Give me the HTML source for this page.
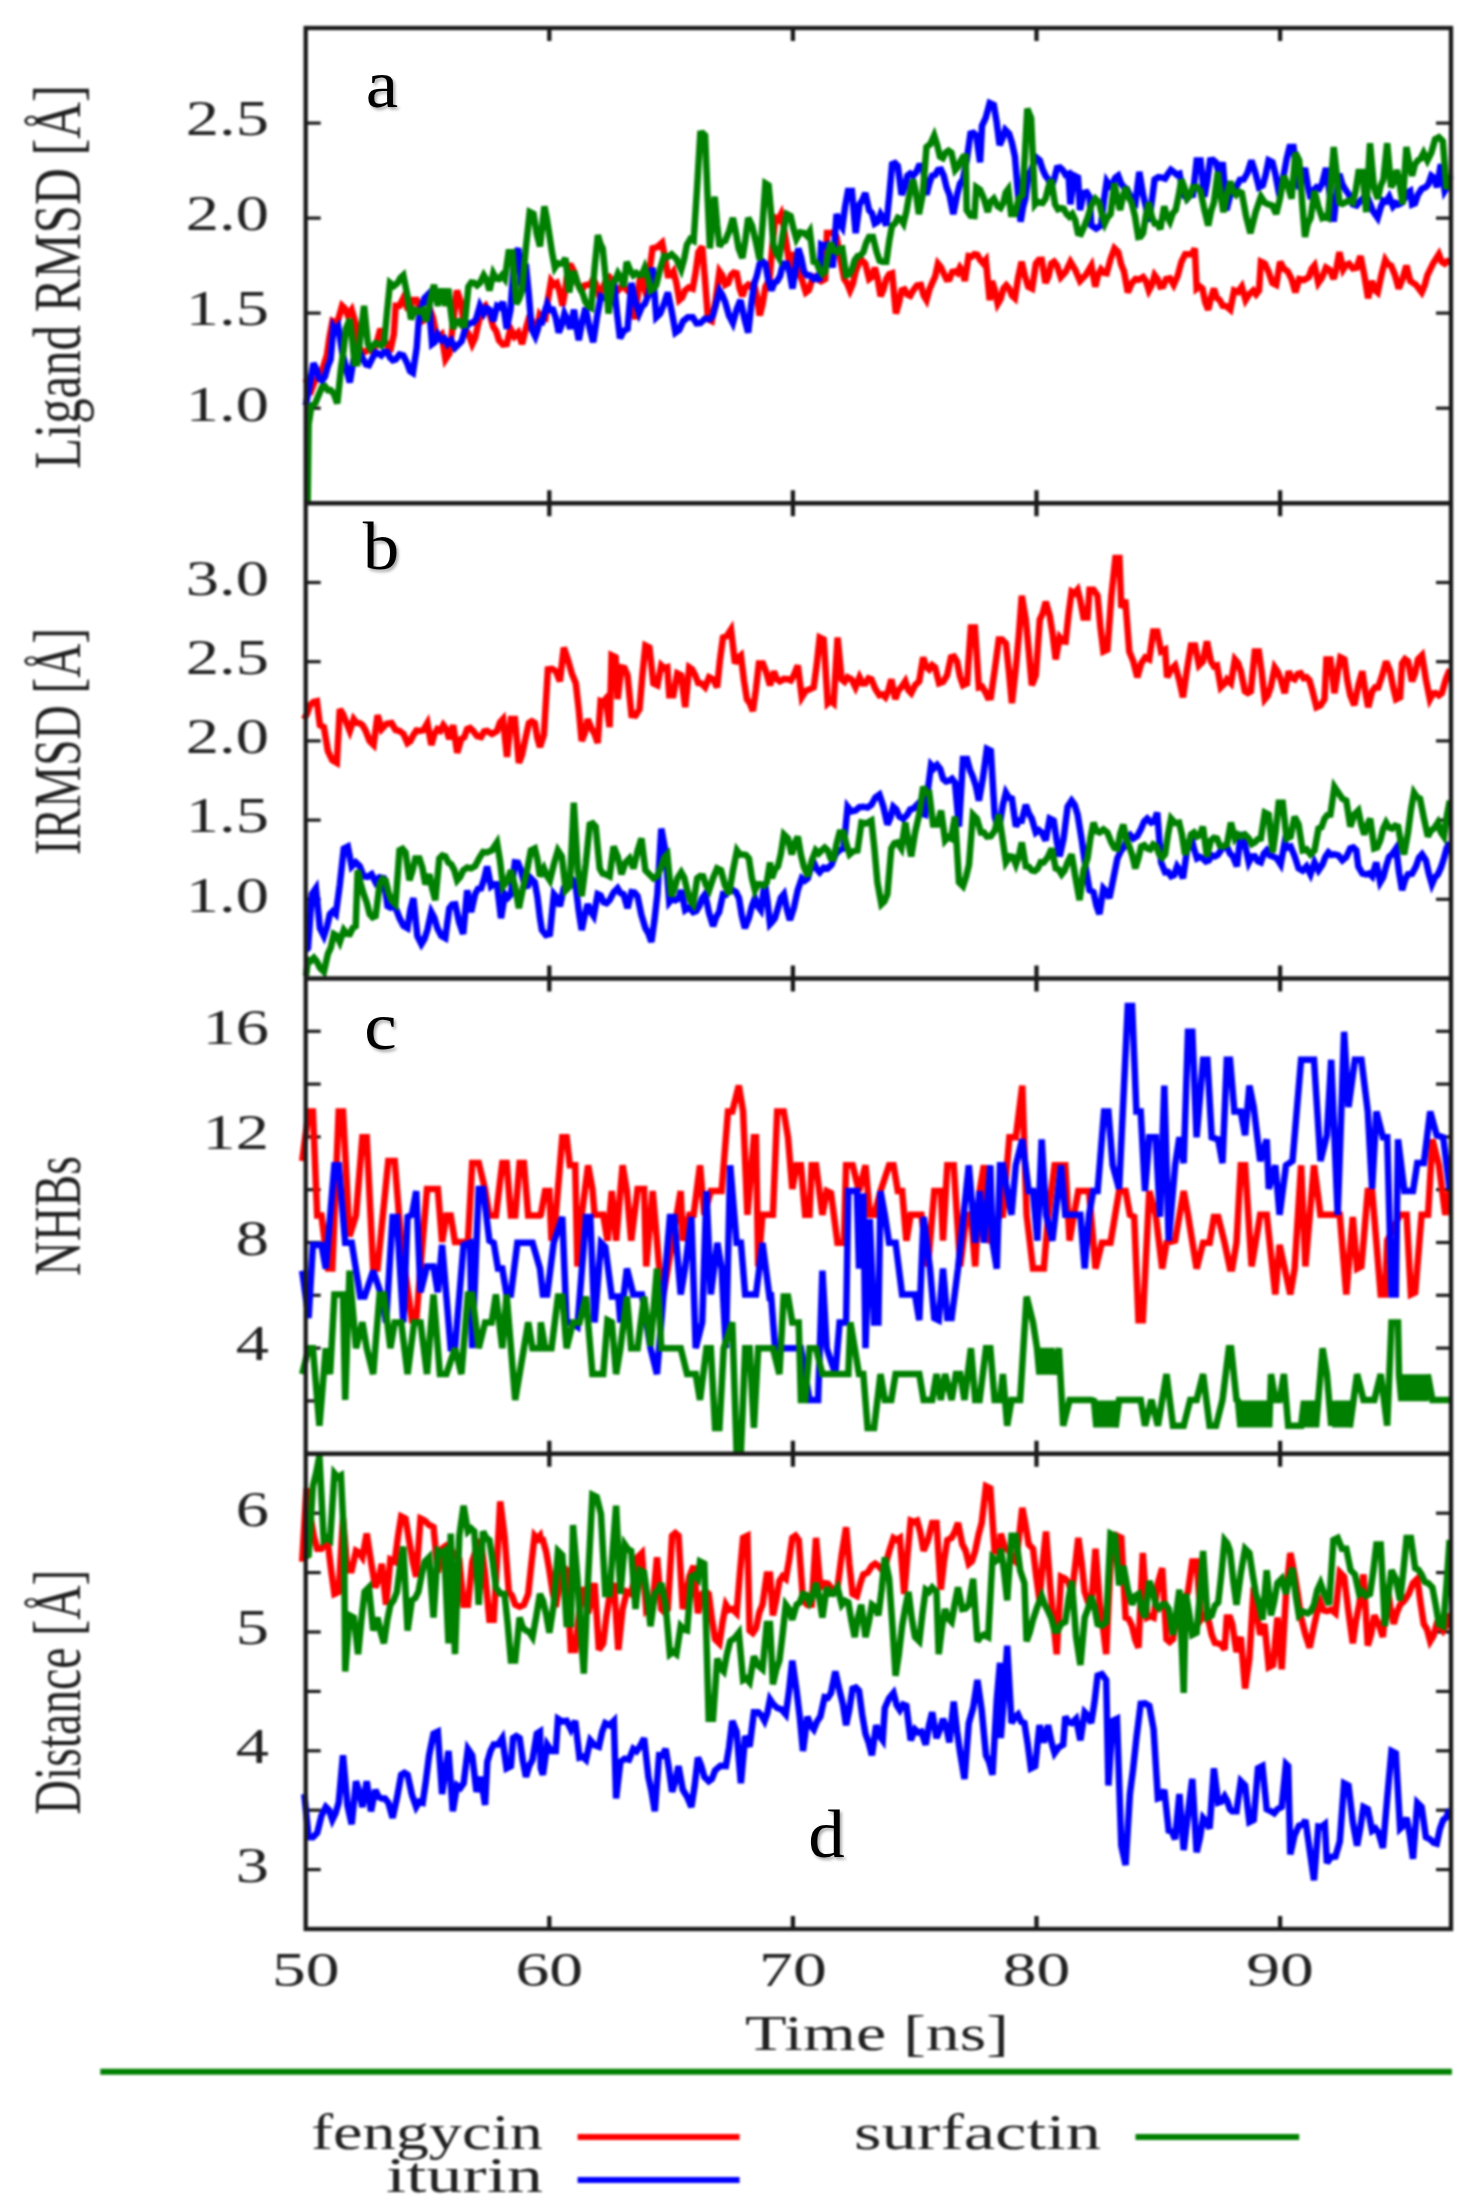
<!DOCTYPE html><html><head><meta charset="utf-8"><style>html,body{margin:0;padding:0;background:#fff}body{position:relative;width:1479px;height:2211px;overflow:hidden}svg{display:block;filter:blur(0.8px)}svg.ov{position:absolute;left:0;top:0;filter:none}</style></head><body>
<svg width="1479" height="2211" viewBox="0 0 1479 2211" font-family="Liberation Serif">
<rect width="100%" height="100%" fill="#fff"/>
<line x1="549.3" y1="28.0" x2="549.3" y2="41.0" stroke="#1a1a1a" stroke-width="4.3"/>
<line x1="549.3" y1="503.25" x2="549.3" y2="490.25" stroke="#1a1a1a" stroke-width="4.3"/>
<line x1="792.9" y1="28.0" x2="792.9" y2="41.0" stroke="#1a1a1a" stroke-width="4.3"/>
<line x1="792.9" y1="503.25" x2="792.9" y2="490.25" stroke="#1a1a1a" stroke-width="4.3"/>
<line x1="1036.5" y1="28.0" x2="1036.5" y2="41.0" stroke="#1a1a1a" stroke-width="4.3"/>
<line x1="1036.5" y1="503.25" x2="1036.5" y2="490.25" stroke="#1a1a1a" stroke-width="4.3"/>
<line x1="1280.1" y1="28.0" x2="1280.1" y2="41.0" stroke="#1a1a1a" stroke-width="4.3"/>
<line x1="1280.1" y1="503.25" x2="1280.1" y2="490.25" stroke="#1a1a1a" stroke-width="4.3"/>
<line x1="549.3" y1="503.25" x2="549.3" y2="516.25" stroke="#1a1a1a" stroke-width="4.3"/>
<line x1="549.3" y1="978.5" x2="549.3" y2="965.5" stroke="#1a1a1a" stroke-width="4.3"/>
<line x1="792.9" y1="503.25" x2="792.9" y2="516.25" stroke="#1a1a1a" stroke-width="4.3"/>
<line x1="792.9" y1="978.5" x2="792.9" y2="965.5" stroke="#1a1a1a" stroke-width="4.3"/>
<line x1="1036.5" y1="503.25" x2="1036.5" y2="516.25" stroke="#1a1a1a" stroke-width="4.3"/>
<line x1="1036.5" y1="978.5" x2="1036.5" y2="965.5" stroke="#1a1a1a" stroke-width="4.3"/>
<line x1="1280.1" y1="503.25" x2="1280.1" y2="516.25" stroke="#1a1a1a" stroke-width="4.3"/>
<line x1="1280.1" y1="978.5" x2="1280.1" y2="965.5" stroke="#1a1a1a" stroke-width="4.3"/>
<line x1="549.3" y1="978.5" x2="549.3" y2="991.5" stroke="#1a1a1a" stroke-width="4.3"/>
<line x1="549.3" y1="1453.75" x2="549.3" y2="1440.75" stroke="#1a1a1a" stroke-width="4.3"/>
<line x1="792.9" y1="978.5" x2="792.9" y2="991.5" stroke="#1a1a1a" stroke-width="4.3"/>
<line x1="792.9" y1="1453.75" x2="792.9" y2="1440.75" stroke="#1a1a1a" stroke-width="4.3"/>
<line x1="1036.5" y1="978.5" x2="1036.5" y2="991.5" stroke="#1a1a1a" stroke-width="4.3"/>
<line x1="1036.5" y1="1453.75" x2="1036.5" y2="1440.75" stroke="#1a1a1a" stroke-width="4.3"/>
<line x1="1280.1" y1="978.5" x2="1280.1" y2="991.5" stroke="#1a1a1a" stroke-width="4.3"/>
<line x1="1280.1" y1="1453.75" x2="1280.1" y2="1440.75" stroke="#1a1a1a" stroke-width="4.3"/>
<line x1="549.3" y1="1453.75" x2="549.3" y2="1466.75" stroke="#1a1a1a" stroke-width="4.3"/>
<line x1="549.3" y1="1929.0" x2="549.3" y2="1916.0" stroke="#1a1a1a" stroke-width="4.3"/>
<line x1="792.9" y1="1453.75" x2="792.9" y2="1466.75" stroke="#1a1a1a" stroke-width="4.3"/>
<line x1="792.9" y1="1929.0" x2="792.9" y2="1916.0" stroke="#1a1a1a" stroke-width="4.3"/>
<line x1="1036.5" y1="1453.75" x2="1036.5" y2="1466.75" stroke="#1a1a1a" stroke-width="4.3"/>
<line x1="1036.5" y1="1929.0" x2="1036.5" y2="1916.0" stroke="#1a1a1a" stroke-width="4.3"/>
<line x1="1280.1" y1="1453.75" x2="1280.1" y2="1466.75" stroke="#1a1a1a" stroke-width="4.3"/>
<line x1="1280.1" y1="1929.0" x2="1280.1" y2="1916.0" stroke="#1a1a1a" stroke-width="4.3"/>
<line x1="305.7" y1="408.2" x2="320.7" y2="408.2" stroke="#1a1a1a" stroke-width="3.2"/>
<line x1="1451.0" y1="408.2" x2="1436.0" y2="408.2" stroke="#1a1a1a" stroke-width="3.2"/>
<line x1="305.7" y1="313.1" x2="320.7" y2="313.1" stroke="#1a1a1a" stroke-width="3.2"/>
<line x1="1451.0" y1="313.1" x2="1436.0" y2="313.1" stroke="#1a1a1a" stroke-width="3.2"/>
<line x1="305.7" y1="218.1" x2="320.7" y2="218.1" stroke="#1a1a1a" stroke-width="3.2"/>
<line x1="1451.0" y1="218.1" x2="1436.0" y2="218.1" stroke="#1a1a1a" stroke-width="3.2"/>
<line x1="305.7" y1="123.1" x2="320.7" y2="123.1" stroke="#1a1a1a" stroke-width="3.2"/>
<line x1="1451.0" y1="123.1" x2="1436.0" y2="123.1" stroke="#1a1a1a" stroke-width="3.2"/>
<line x1="305.7" y1="899.3" x2="320.7" y2="899.3" stroke="#1a1a1a" stroke-width="3.2"/>
<line x1="1451.0" y1="899.3" x2="1436.0" y2="899.3" stroke="#1a1a1a" stroke-width="3.2"/>
<line x1="305.7" y1="820.1" x2="320.7" y2="820.1" stroke="#1a1a1a" stroke-width="3.2"/>
<line x1="1451.0" y1="820.1" x2="1436.0" y2="820.1" stroke="#1a1a1a" stroke-width="3.2"/>
<line x1="305.7" y1="740.9" x2="320.7" y2="740.9" stroke="#1a1a1a" stroke-width="3.2"/>
<line x1="1451.0" y1="740.9" x2="1436.0" y2="740.9" stroke="#1a1a1a" stroke-width="3.2"/>
<line x1="305.7" y1="661.7" x2="320.7" y2="661.7" stroke="#1a1a1a" stroke-width="3.2"/>
<line x1="1451.0" y1="661.7" x2="1436.0" y2="661.7" stroke="#1a1a1a" stroke-width="3.2"/>
<line x1="305.7" y1="582.5" x2="320.7" y2="582.5" stroke="#1a1a1a" stroke-width="3.2"/>
<line x1="1451.0" y1="582.5" x2="1436.0" y2="582.5" stroke="#1a1a1a" stroke-width="3.2"/>
<line x1="305.7" y1="1400.9" x2="320.7" y2="1400.9" stroke="#1a1a1a" stroke-width="3.2"/>
<line x1="1451.0" y1="1400.9" x2="1436.0" y2="1400.9" stroke="#1a1a1a" stroke-width="3.2"/>
<line x1="305.7" y1="1348.1" x2="320.7" y2="1348.1" stroke="#1a1a1a" stroke-width="3.2"/>
<line x1="1451.0" y1="1348.1" x2="1436.0" y2="1348.1" stroke="#1a1a1a" stroke-width="3.2"/>
<line x1="305.7" y1="1295.3" x2="320.7" y2="1295.3" stroke="#1a1a1a" stroke-width="3.2"/>
<line x1="1451.0" y1="1295.3" x2="1436.0" y2="1295.3" stroke="#1a1a1a" stroke-width="3.2"/>
<line x1="305.7" y1="1242.5" x2="320.7" y2="1242.5" stroke="#1a1a1a" stroke-width="3.2"/>
<line x1="1451.0" y1="1242.5" x2="1436.0" y2="1242.5" stroke="#1a1a1a" stroke-width="3.2"/>
<line x1="305.7" y1="1189.7" x2="320.7" y2="1189.7" stroke="#1a1a1a" stroke-width="3.2"/>
<line x1="1451.0" y1="1189.7" x2="1436.0" y2="1189.7" stroke="#1a1a1a" stroke-width="3.2"/>
<line x1="305.7" y1="1136.9" x2="320.7" y2="1136.9" stroke="#1a1a1a" stroke-width="3.2"/>
<line x1="1451.0" y1="1136.9" x2="1436.0" y2="1136.9" stroke="#1a1a1a" stroke-width="3.2"/>
<line x1="305.7" y1="1084.1" x2="320.7" y2="1084.1" stroke="#1a1a1a" stroke-width="3.2"/>
<line x1="1451.0" y1="1084.1" x2="1436.0" y2="1084.1" stroke="#1a1a1a" stroke-width="3.2"/>
<line x1="305.7" y1="1031.3" x2="320.7" y2="1031.3" stroke="#1a1a1a" stroke-width="3.2"/>
<line x1="1451.0" y1="1031.3" x2="1436.0" y2="1031.3" stroke="#1a1a1a" stroke-width="3.2"/>
<line x1="305.7" y1="1869.6" x2="320.7" y2="1869.6" stroke="#1a1a1a" stroke-width="3.2"/>
<line x1="1451.0" y1="1869.6" x2="1436.0" y2="1869.6" stroke="#1a1a1a" stroke-width="3.2"/>
<line x1="305.7" y1="1810.2" x2="320.7" y2="1810.2" stroke="#1a1a1a" stroke-width="3.2"/>
<line x1="1451.0" y1="1810.2" x2="1436.0" y2="1810.2" stroke="#1a1a1a" stroke-width="3.2"/>
<line x1="305.7" y1="1750.8" x2="320.7" y2="1750.8" stroke="#1a1a1a" stroke-width="3.2"/>
<line x1="1451.0" y1="1750.8" x2="1436.0" y2="1750.8" stroke="#1a1a1a" stroke-width="3.2"/>
<line x1="305.7" y1="1691.4" x2="320.7" y2="1691.4" stroke="#1a1a1a" stroke-width="3.2"/>
<line x1="1451.0" y1="1691.4" x2="1436.0" y2="1691.4" stroke="#1a1a1a" stroke-width="3.2"/>
<line x1="305.7" y1="1632.0" x2="320.7" y2="1632.0" stroke="#1a1a1a" stroke-width="3.2"/>
<line x1="1451.0" y1="1632.0" x2="1436.0" y2="1632.0" stroke="#1a1a1a" stroke-width="3.2"/>
<line x1="305.7" y1="1572.6" x2="320.7" y2="1572.6" stroke="#1a1a1a" stroke-width="3.2"/>
<line x1="1451.0" y1="1572.6" x2="1436.0" y2="1572.6" stroke="#1a1a1a" stroke-width="3.2"/>
<line x1="305.7" y1="1513.2" x2="320.7" y2="1513.2" stroke="#1a1a1a" stroke-width="3.2"/>
<line x1="1451.0" y1="1513.2" x2="1436.0" y2="1513.2" stroke="#1a1a1a" stroke-width="3.2"/>
<polyline points="305.7,378.6 308.6,386.5 311.5,390.0 315.3,380.2 319.1,376.7 323.0,367.5 326.8,355.6 329.7,335.9 332.5,321.1 335.4,322.6 338.3,319.2 342.1,305.8 345.0,308.6 347.8,315.4 351.7,309.7 355.5,323.1 359.3,347.9 362.2,351.5 365.1,351.8 368.9,349.2 372.7,351.8 376.6,343.2 380.4,328.8 384.2,340.3 387.1,344.8 390.0,351.8 393.8,334.5 395.7,305.8 399.5,305.8 403.3,298.2 407.2,307.8 410.0,307.5 412.9,300.1 416.7,300.1 419.6,307.7 422.5,321.1 426.3,319.0 430.1,309.7 433.0,317.6 435.9,332.6 438.8,336.8 441.6,334.5 445.5,359.4 449.3,353.7 453.1,323.1 456.9,290.5 460.8,302.0 464.6,328.8 468.4,333.7 472.2,344.1 475.1,338.0 478.0,325.0 481.8,309.7 485.6,305.8 489.5,313.5 493.3,326.9 496.2,331.2 499.0,340.3 502.9,344.6 506.7,344.1 510.5,328.8 514.4,336.5 518.2,332.6 522.0,344.1 525.8,328.8 529.7,315.4 532.5,322.6 535.4,336.5 539.6,315.4 542.4,319.4 545.3,319.2 548.2,298.1 551.1,281.0 553.9,284.7 556.8,282.9 559.7,292.1 562.5,305.8 565.4,289.0 568.3,265.6 571.1,265.9 574.0,271.4 577.8,283.9 581.7,290.5 584.5,285.5 587.4,284.8 590.3,284.7 593.2,279.0 596.0,284.3 598.9,294.4 602.7,288.2 606.6,279.0 609.4,277.2 612.3,281.0 615.2,289.0 618.0,290.5 620.9,287.3 623.8,286.7 627.6,290.7 631.4,290.5 635.3,319.2 638.1,292.0 641.0,271.4 643.9,287.0 646.7,296.3 649.6,270.3 652.5,248.4 657.3,247.0 662.1,242.7 664.9,257.7 667.8,275.2 670.7,275.1 673.5,271.4 676.4,283.1 679.3,300.1 682.2,297.6 685.0,290.5 688.9,287.3 692.7,288.6 695.6,272.7 698.4,252.2 702.2,246.5 705.1,281.0 708.0,319.2 711.8,321.1 715.6,300.0 719.5,271.4 722.3,275.4 725.2,284.8 728.1,283.2 731.0,275.2 733.8,272.6 736.7,273.3 739.6,288.3 742.4,296.3 745.3,287.4 748.2,284.8 751.1,287.0 753.9,282.9 756.8,296.2 759.7,315.4 762.5,304.7 765.4,286.7 769.6,279.0 772.4,246.1 775.3,217.8 778.2,219.5 781.1,214.0 783.9,228.0 786.8,246.5 790.6,271.4 793.5,252.2 795.9,263.4 798.3,271.4 802.1,280.3 805.9,292.4 808.8,290.3 811.7,281.0 814.5,277.2 817.4,279.0 821.2,281.2 825.1,279.0 827.0,233.1 830.8,233.1 833.7,232.3 836.6,236.9 840.4,259.4 844.2,279.0 847.1,283.2 850.0,290.5 852.8,284.0 855.7,271.4 859.5,261.8 862.4,260.8 865.3,263.7 869.1,279.0 872.0,276.8 874.8,267.6 877.7,279.1 880.6,296.3 883.4,289.8 886.3,279.0 889.2,274.2 892.1,273.3 895.9,313.5 898.8,303.5 901.6,290.5 904.5,289.5 907.4,294.4 910.2,295.7 913.1,290.5 916.9,285.4 920.8,284.8 923.6,295.3 926.5,300.1 929.4,289.6 932.2,282.9 935.1,276.6 938.0,263.7 940.9,267.2 943.7,273.3 946.6,279.3 949.5,279.0 952.3,271.9 955.2,271.4 957.6,273.1 960.0,267.6 962.4,270.9 964.8,281.0 968.6,256.1 971.5,256.7 974.4,254.2 977.2,254.7 980.1,259.9 983.0,263.1 985.8,259.9 989.7,300.1 991.9,281.0 994.8,289.9 997.7,303.9 1000.5,299.2 1003.4,288.6 1006.3,285.3 1009.1,288.6 1012.0,295.5 1014.9,298.2 1018.2,277.4 1021.6,261.8 1024.9,276.0 1028.3,286.7 1032.1,288.6 1035.9,263.7 1038.8,260.0 1041.7,259.9 1045.5,282.9 1048.4,276.6 1051.2,263.7 1054.1,261.7 1057.0,265.6 1060.8,277.1 1065.6,271.8 1070.4,261.8 1075.2,269.8 1080.0,281.0 1085.7,275.1 1091.4,265.6 1095.3,286.7 1098.1,274.9 1101.0,269.5 1103.9,272.8 1106.7,273.3 1110.6,258.9 1114.4,248.4 1118.2,252.2 1121.1,264.3 1124.0,271.4 1127.8,292.4 1131.6,283.4 1135.5,279.0 1139.3,279.5 1143.1,277.1 1146.0,281.3 1148.9,290.5 1151.7,285.3 1154.6,275.2 1157.5,279.0 1160.3,286.7 1163.2,286.2 1166.1,279.0 1169.9,278.3 1173.7,284.8 1177.6,276.0 1181.4,261.8 1185.2,254.3 1189.0,254.2 1191.9,254.5 1194.8,248.4 1196.7,288.6 1199.6,286.4 1202.4,288.6 1205.3,302.6 1208.2,309.7 1211.1,297.5 1213.9,288.6 1216.8,297.9 1219.7,300.1 1222.7,305.8 1226.5,306.4 1230.3,309.7 1234.1,290.5 1238.0,292.0 1241.8,286.7 1245.6,300.1 1249.4,294.0 1253.3,290.5 1256.1,294.3 1259.0,290.5 1260.9,261.8 1264.8,263.7 1268.6,272.0 1272.4,282.9 1276.2,284.8 1280.1,261.8 1283.9,268.7 1287.7,271.4 1291.6,279.1 1295.4,292.4 1299.2,279.0 1304.0,280.0 1308.8,277.1 1311.7,269.0 1314.5,265.6 1318.3,282.9 1322.2,277.2 1326.0,267.6 1329.8,270.0 1333.7,279.0 1336.5,268.2 1339.4,252.2 1343.2,269.5 1346.1,265.0 1349.0,263.7 1352.8,268.4 1356.6,267.6 1360.5,256.1 1364.3,275.0 1368.1,298.2 1371.9,281.0 1374.8,289.8 1377.7,292.4 1381.5,274.5 1385.3,259.9 1388.2,264.3 1391.1,265.6 1394.9,274.9 1398.7,288.6 1402.6,278.7 1406.4,265.6 1410.2,281.0 1416.0,284.9 1421.7,292.4 1424.6,285.6 1427.4,275.2 1433.2,263.3 1438.9,254.2 1441.8,261.8 1444.7,263.7 1447.5,261.1 1450.4,261.8" fill="none" stroke="#ff0000" stroke-width="6.5" stroke-linejoin="miter" stroke-miterlimit="3"/>
<polyline points="305.7,405.4 309.6,385.8 313.4,363.3 316.3,369.0 319.1,378.6 322.0,380.6 324.9,376.7 327.8,366.3 330.6,359.4 333.5,326.9 335.9,330.3 338.3,326.9 342.1,351.8 345.9,367.1 349.8,382.4 353.6,359.4 357.4,351.8 360.3,353.3 363.2,359.4 366.0,364.5 368.9,365.2 372.7,357.5 375.6,352.5 378.5,353.7 381.3,355.4 384.2,351.8 387.1,351.9 390.0,357.5 392.8,360.3 395.7,359.4 399.5,354.5 403.3,355.6 407.2,363.3 410.0,371.0 412.9,372.8 416.7,347.9 418.7,321.1 421.5,307.4 424.4,298.2 428.2,294.4 432.1,344.1 434.9,342.0 437.8,334.5 441.6,340.3 444.5,338.5 447.4,344.1 451.2,340.3 455.0,347.9 458.9,344.1 461.7,341.1 464.6,330.7 467.5,325.1 470.3,323.1 473.2,322.6 476.1,319.2 479.9,305.8 483.7,313.5 486.6,308.2 489.5,309.7 493.3,321.1 497.1,305.8 500.0,307.2 502.9,302.0 506.7,328.8 510.5,309.7 514.4,256.1 518.2,248.4 522.0,290.5 525.8,263.7 528.7,293.3 531.6,328.8 535.4,336.5 537.7,329.7 540.0,319.2 541.5,325.0 544.4,312.5 547.2,303.9 550.1,310.0 553.0,309.7 555.8,317.8 558.7,332.6 561.6,325.2 564.4,313.5 567.3,319.5 570.2,328.8 574.0,309.7 576.4,326.6 578.8,340.3 582.2,321.3 585.5,307.8 589.3,326.8 593.2,342.2 597.0,317.0 600.8,296.3 603.7,297.7 606.6,296.3 610.4,288.3 614.2,284.8 617.1,313.8 620.0,338.4 623.8,330.9 627.6,328.8 631.4,282.9 635.3,301.8 639.1,313.5 642.0,306.6 644.8,303.9 648.7,294.4 652.5,267.6 656.3,317.3 660.1,313.6 664.0,303.9 667.8,292.4 671.6,310.8 675.5,332.6 679.3,329.9 683.1,321.1 687.9,317.3 692.7,317.3 696.5,323.3 700.3,323.1 705.1,318.6 709.9,319.2 712.8,315.6 715.6,305.8 719.5,290.5 722.3,294.9 725.2,302.0 729.0,315.5 732.9,323.1 736.7,309.4 740.5,300.1 744.4,318.5 748.2,332.6 751.1,305.9 753.9,284.8 756.8,275.9 759.7,263.7 762.5,261.3 765.4,263.7 768.4,280.8 771.5,290.5 774.4,282.6 777.2,281.0 780.1,276.0 783.0,263.7 786.8,263.7 789.7,272.8 792.5,288.6 795.4,270.1 798.3,248.4 801.1,257.2 804.0,271.4 806.9,275.2 809.8,275.2 813.6,279.0 816.5,276.7 819.3,281.0 821.2,244.6 824.1,246.1 827.0,244.6 829.9,254.3 832.7,267.6 836.6,214.0 839.4,223.2 842.3,227.4 845.2,205.9 848.0,191.0 851.9,191.0 855.7,233.1 859.5,204.4 862.4,199.9 865.3,192.9 869.1,210.1 872.0,213.2 874.8,223.5 877.7,221.8 880.6,214.0 883.4,218.5 886.3,225.5 889.2,196.4 892.1,164.2 894.9,163.1 897.8,166.1 901.6,194.8 904.5,187.6 907.4,175.7 910.2,173.6 913.1,175.7 916.0,172.5 918.9,166.1 922.7,166.1 926.5,194.8 929.4,183.2 932.2,175.7 935.1,174.9 938.0,170.0 940.9,169.6 943.7,175.7 946.6,187.5 949.5,194.8 953.3,214.0 957.1,194.8 960.0,183.7 962.9,179.5 966.7,160.2 970.5,133.6 973.4,132.8 976.3,135.5 980.1,162.3 982.0,125.9 985.8,117.6 989.7,103.0 993.8,104.9 996.7,122.5 999.6,145.1 1002.4,138.9 1005.3,129.8 1009.1,133.6 1012.0,143.1 1014.9,156.6 1017.8,191.1 1020.6,221.6 1023.0,207.4 1025.4,198.7 1028.3,175.7 1031.1,170.4 1034.0,162.3 1036.9,158.0 1039.8,160.4 1042.6,169.3 1045.5,175.7 1048.4,179.5 1051.2,187.2 1054.1,179.5 1057.0,168.0 1059.9,167.4 1062.7,170.0 1065.6,174.8 1068.5,173.8 1070.4,204.4 1074.2,175.7 1078.0,177.6 1080.0,210.1 1083.8,192.9 1086.7,192.2 1089.5,196.7 1091.4,225.5 1096.2,228.7 1101.0,225.5 1103.9,200.5 1106.7,181.4 1109.6,185.8 1112.5,183.3 1115.4,177.7 1118.2,175.7 1121.1,183.4 1124.0,187.2 1126.8,188.9 1129.7,194.8 1132.6,200.0 1135.5,202.5 1139.3,171.9 1143.1,194.8 1146.0,206.9 1148.9,221.6 1151.7,202.1 1154.6,179.5 1158.4,177.2 1162.2,177.6 1165.1,178.6 1168.0,173.8 1170.9,169.8 1173.7,171.9 1176.6,174.7 1179.5,173.8 1183.3,194.8 1187.1,198.7 1190.0,195.0 1192.9,194.8 1196.7,160.4 1200.5,160.4 1204.4,196.7 1207.2,181.5 1210.1,160.4 1213.0,159.9 1215.8,162.3 1219.7,175.7 1222.7,162.3 1226.5,210.1 1230.3,194.8 1233.2,192.8 1236.1,187.2 1239.9,179.8 1243.7,179.5 1247.5,172.8 1251.4,160.4 1255.2,172.5 1259.0,187.2 1262.8,185.3 1265.7,174.7 1268.6,160.4 1272.4,162.3 1275.3,173.7 1278.2,189.1 1281.0,184.7 1283.9,173.8 1286.8,158.1 1289.6,147.0 1293.5,147.0 1296.3,170.0 1299.2,189.1 1302.1,177.0 1305.0,168.0 1307.8,185.6 1310.7,198.7 1313.6,190.4 1316.4,187.2 1319.3,188.7 1322.2,183.3 1326.0,168.0 1329.8,194.8 1333.7,221.6 1336.5,194.7 1339.4,173.8 1342.3,184.1 1345.1,189.1 1349.0,194.7 1352.8,204.4 1356.6,205.5 1360.5,200.6 1364.3,197.1 1368.1,198.7 1372.9,211.0 1377.7,217.8 1380.6,207.9 1383.4,200.6 1386.3,201.5 1389.2,196.7 1393.0,206.3 1395.9,203.0 1398.7,204.4 1401.6,202.9 1404.5,198.7 1407.3,192.7 1410.2,191.0 1412.1,204.4 1415.0,203.2 1417.9,194.8 1421.7,188.9 1425.5,187.2 1428.4,184.3 1431.3,175.7 1434.1,177.7 1437.0,187.2 1440.8,164.2 1444.7,191.0 1447.5,186.5 1450.4,175.7" fill="none" stroke="#0000ff" stroke-width="6.5" stroke-linejoin="miter" stroke-miterlimit="3"/>
<polyline points="307.7,501.1 308.6,424.5 311.5,405.4 315.3,403.2 319.1,393.9 322.0,387.2 324.9,386.2 327.8,390.2 330.6,390.0 334.0,394.1 337.3,403.4 341.1,367.1 343.5,350.7 345.9,328.8 349.8,319.2 352.2,339.1 354.5,363.3 357.4,363.3 361.2,328.8 364.1,305.8 367.9,344.1 370.3,348.4 372.7,346.0 375.6,343.0 378.5,344.1 381.3,345.6 384.2,342.2 387.1,311.2 390.0,282.9 393.8,286.0 397.6,282.9 400.5,277.7 403.3,275.2 407.2,294.4 411.0,319.2 414.8,309.7 418.7,311.4 422.5,309.7 426.3,321.1 430.1,301.4 434.0,284.8 437.8,305.8 441.6,288.6 445.5,305.8 448.3,288.6 450.7,310.5 453.1,328.8 456.0,321.8 458.9,321.1 461.7,325.2 464.6,325.0 468.4,286.7 471.3,282.5 474.2,282.9 477.0,285.4 479.9,282.9 483.7,275.2 486.6,280.1 489.5,290.5 493.3,273.3 496.2,278.5 499.0,279.0 501.9,275.3 504.8,279.0 508.6,252.2 512.4,252.2 516.3,303.9 519.1,298.9 522.0,290.5 525.8,248.4 529.7,212.1 533.5,214.0 536.7,233.9 540.0,246.5 544.4,206.3 546.7,217.7 549.1,233.1 552.0,252.2 554.9,267.6 557.8,263.3 560.6,263.7 563.0,263.0 565.4,258.0 569.2,292.4 571.6,278.4 574.0,271.4 576.9,281.4 579.8,288.6 582.6,293.3 585.5,302.0 588.4,306.3 591.2,307.8 594.6,267.7 597.9,235.0 600.3,243.7 602.7,248.4 605.6,277.8 608.5,313.5 612.3,282.9 615.2,280.5 618.0,273.3 620.9,277.8 623.8,286.7 626.7,261.8 630.0,270.0 633.3,275.2 636.2,272.9 639.1,275.2 642.0,274.5 644.8,267.6 647.7,276.3 650.6,290.5 653.4,289.0 656.3,284.8 660.1,269.1 664.0,256.1 667.8,257.0 671.6,254.2 676.4,258.8 681.2,269.5 684.1,259.2 686.9,244.6 690.3,239.0 693.6,240.8 697.0,189.1 700.3,133.6 702.7,133.2 705.1,135.5 707.5,194.8 709.9,248.4 712.3,219.3 714.7,196.7 717.1,224.6 719.5,246.5 722.3,241.8 725.2,240.8 729.0,231.6 732.9,217.8 735.7,231.8 738.6,248.4 742.4,258.0 745.3,240.2 748.2,217.8 752.0,225.5 755.8,241.4 759.7,259.9 762.5,225.1 765.4,183.3 768.6,185.3 771.0,212.1 773.4,244.6 776.3,253.2 779.1,258.0 783.0,232.9 786.8,214.0 790.6,215.9 793.5,228.7 796.4,238.9 800.2,232.3 804.0,233.1 806.9,235.7 809.8,231.2 813.6,261.8 816.5,262.7 819.3,269.5 822.2,273.8 825.1,271.4 827.9,254.3 830.8,242.7 833.7,250.6 836.6,252.2 839.4,248.8 842.3,248.4 846.1,275.2 849.0,274.4 851.9,269.5 854.7,260.2 857.6,256.1 860.5,255.4 863.3,252.2 866.2,242.8 869.1,236.9 872.9,236.9 876.7,252.2 879.6,260.7 882.5,261.8 886.3,261.8 889.2,241.1 892.1,225.5 894.9,223.6 897.8,217.8 900.7,219.1 903.5,223.5 906.4,211.4 909.3,194.8 913.1,179.5 916.0,193.2 918.9,214.0 922.7,194.8 926.5,147.0 930.3,144.2 934.2,135.5 937.0,144.3 939.9,156.6 942.8,158.1 945.6,152.7 948.5,150.7 951.4,152.7 955.2,170.0 958.1,166.7 961.0,160.4 963.3,156.7 965.7,156.6 966.7,210.1 970.5,215.6 974.4,215.9 976.3,187.2 980.1,189.9 983.9,198.7 987.8,212.1 990.0,202.5 993.8,198.7 997.7,206.3 1000.5,208.0 1003.4,202.5 1005.8,192.3 1008.2,189.1 1011.1,214.0 1014.9,214.0 1018.7,198.7 1022.5,194.8 1024.9,154.8 1027.3,108.7 1031.1,118.3 1035.0,204.4 1037.4,201.6 1039.8,202.5 1042.6,203.0 1045.5,198.7 1048.4,187.2 1051.2,179.5 1055.1,204.4 1057.9,209.3 1060.8,208.2 1063.7,208.7 1066.6,214.0 1069.4,216.7 1072.3,214.0 1075.2,220.0 1078.0,233.1 1080.9,233.9 1083.8,227.4 1087.6,217.8 1091.4,205.4 1095.3,198.7 1099.1,202.5 1102.0,214.7 1104.8,223.5 1107.7,217.2 1110.6,214.0 1114.4,183.3 1117.3,198.1 1120.1,210.1 1123.0,196.4 1125.9,187.2 1128.8,197.8 1131.6,202.5 1135.0,216.5 1138.3,236.9 1140.7,236.5 1143.1,233.1 1146.0,215.0 1148.9,202.5 1151.7,216.4 1154.6,223.5 1157.5,223.4 1160.3,229.3 1164.2,206.3 1167.0,216.3 1169.9,221.6 1172.8,213.1 1175.6,210.1 1178.5,196.5 1181.4,179.5 1184.3,187.2 1187.1,198.7 1190.0,195.8 1192.9,187.2 1196.7,186.7 1200.5,191.0 1204.4,209.8 1208.2,225.5 1211.1,211.0 1213.9,202.5 1217.8,171.9 1220.6,194.6 1223.5,212.1 1226.9,194.6 1230.3,181.4 1233.2,191.6 1236.1,194.8 1238.9,191.5 1241.8,192.9 1246.1,216.2 1250.4,233.1 1255.7,212.0 1260.9,196.7 1264.8,202.7 1268.6,204.4 1272.4,205.6 1276.2,214.0 1280.1,197.9 1283.9,175.7 1287.7,185.3 1291.6,198.7 1295.4,152.7 1299.2,160.4 1302.1,201.7 1305.0,236.9 1307.8,223.7 1310.7,217.8 1314.5,191.0 1318.3,206.6 1322.2,217.8 1325.0,216.3 1327.9,217.8 1330.8,184.7 1333.7,147.0 1336.5,172.4 1339.4,202.5 1342.3,203.9 1345.1,202.5 1349.0,200.5 1352.8,202.5 1355.7,190.6 1358.5,171.9 1362.4,171.9 1366.2,212.1 1370.0,143.2 1373.9,187.2 1377.7,198.7 1380.6,185.7 1383.4,179.5 1387.2,143.2 1391.1,187.2 1393.9,181.8 1396.8,170.0 1399.7,184.0 1402.6,204.4 1406.4,147.0 1409.3,163.2 1412.1,175.7 1415.0,164.3 1417.9,160.4 1420.7,158.5 1423.6,152.7 1427.4,160.4 1431.3,152.7 1435.1,139.3 1438.9,137.3 1442.8,141.2 1446.6,189.1 1450.4,177.6" fill="none" stroke="#008000" stroke-width="6.5" stroke-linejoin="miter" stroke-miterlimit="3"/>
<polyline points="304.0,719.1 307.0,713.9 310.0,705.2 313.4,701.9 316.9,701.2 319.9,725.1 323.9,727.1 327.9,750.9 332.3,760.3 336.8,762.9 339.8,709.2 342.8,713.7 345.8,721.1 349.8,731.0 353.7,719.1 356.7,722.9 359.7,723.1 362.7,725.5 365.7,731.0 369.7,741.2 373.6,745.0 377.6,715.1 381.6,729.1 386.6,723.8 391.5,723.1 395.5,730.0 399.5,731.0 403.5,734.0 407.5,743.0 410.4,741.0 413.4,735.0 416.4,730.6 419.4,731.0 423.4,730.1 427.4,723.1 431.3,745.0 434.3,734.3 437.3,729.1 440.3,730.8 443.3,725.1 446.3,729.3 449.3,739.0 453.2,725.1 457.2,752.9 461.2,739.0 464.2,737.3 467.2,729.1 470.1,728.0 473.1,731.0 477.1,736.0 481.1,737.0 484.1,731.5 487.1,731.0 492.0,734.0 497.0,731.0 500.0,722.5 503.0,719.1 507.0,756.9 510.9,719.1 514.9,719.1 518.9,762.9 521.9,755.2 524.9,741.0 528.9,723.1 531.8,721.3 534.8,723.1 537.4,738.3 540.0,747.0 543.9,735.0 547.9,669.4 551.9,668.8 555.9,671.3 559.9,681.3 563.8,647.5 567.8,659.4 571.8,673.4 575.8,683.3 578.8,709.9 581.7,741.0 584.7,733.3 587.7,719.1 591.7,729.1 594.7,734.2 597.7,743.0 600.6,701.2 603.1,702.2 605.6,699.2 609.6,727.1 611.6,655.4 615.6,657.4 617.6,699.2 621.5,667.4 624.5,668.0 627.5,675.3 631.5,715.1 635.5,715.5 639.5,709.2 642.4,675.0 645.4,645.5 649.4,647.5 653.4,683.3 657.4,685.3 661.3,665.4 664.3,668.3 667.3,667.4 669.3,695.2 673.3,695.2 677.3,673.3 681.2,675.3 685.2,707.2 689.2,667.4 692.2,669.5 695.2,675.3 698.2,683.0 701.1,683.3 705.1,687.3 709.1,677.3 713.1,679.3 717.1,687.3 720.0,659.6 723.0,637.5 727.0,635.8 731.0,629.6 735.0,663.4 738.0,657.9 740.9,655.4 743.9,680.0 746.9,699.2 749.9,703.3 752.9,711.1 755.9,689.6 758.9,663.4 762.8,663.4 766.4,672.8 770.0,685.3 773.9,671.3 776.9,679.1 779.9,681.3 783.9,678.9 787.9,679.3 790.8,680.5 793.8,675.3 797.8,665.4 801.8,697.2 805.8,690.8 809.8,689.3 813.7,687.3 816.7,665.0 819.7,637.5 823.7,639.5 827.7,703.2 830.6,700.5 833.6,703.2 837.6,637.5 841.6,679.3 844.6,681.8 847.6,677.3 851.5,679.4 855.5,687.3 859.5,677.3 862.5,683.4 865.5,683.3 868.5,678.4 871.4,679.3 875.4,689.1 879.4,695.2 882.4,694.4 885.4,697.2 888.4,690.5 891.3,679.3 895.3,699.2 898.3,690.6 901.3,687.3 905.3,681.3 908.3,690.1 911.2,693.2 915.2,685.0 919.2,681.3 923.2,657.4 926.2,666.8 929.2,669.4 932.1,665.1 935.1,667.4 939.1,683.3 943.1,681.9 947.1,675.3 951.0,657.4 954.0,656.6 957.0,661.4 960.0,676.5 963.0,685.3 967.0,683.3 970.9,627.6 974.9,627.6 978.9,687.3 981.9,686.5 984.9,691.2 987.9,697.5 990.8,697.2 994.8,669.4 998.8,639.5 1001.9,639.5 1005.9,643.5 1008.9,671.0 1011.9,703.2 1015.9,667.4 1018.9,634.8 1021.8,595.7 1025.8,619.6 1028.8,651.1 1031.8,685.3 1035.8,675.3 1039.8,619.6 1042.7,613.4 1045.7,601.7 1049.7,615.6 1052.7,634.5 1055.7,659.4 1059.7,637.5 1062.6,641.1 1065.6,641.5 1068.6,614.0 1071.6,591.7 1074.6,593.4 1077.6,589.8 1080.5,601.4 1083.5,617.6 1087.5,617.6 1089.5,589.8 1093.5,589.8 1097.5,595.7 1100.4,626.9 1103.4,651.4 1107.4,649.5 1111.4,595.7 1115.4,557.9 1119.4,557.9 1121.3,607.7 1125.3,599.7 1129.3,651.4 1133.3,661.4 1137.3,677.3 1141.2,663.4 1145.2,657.4 1149.2,659.4 1153.2,631.5 1157.2,631.5 1161.1,651.4 1165.1,649.5 1167.1,677.3 1171.1,669.4 1175.1,665.4 1179.1,679.5 1183.0,697.2 1187.0,669.4 1191.0,645.5 1195.0,645.5 1199.0,665.4 1202.9,661.4 1206.9,641.5 1210.9,661.4 1213.9,666.3 1216.9,665.4 1220.8,687.3 1224.8,683.3 1226.9,679.3 1230.9,683.3 1234.9,659.4 1237.9,662.9 1240.9,671.3 1244.9,691.2 1247.8,693.0 1250.8,691.2 1254.8,651.4 1258.8,651.4 1261.8,673.1 1264.8,699.2 1267.7,695.6 1270.7,687.3 1274.7,667.4 1277.7,671.7 1280.7,679.3 1284.7,693.2 1288.6,671.3 1291.6,677.9 1294.6,679.3 1297.6,674.0 1300.6,673.3 1303.6,678.2 1306.5,677.3 1309.5,680.5 1312.5,691.2 1316.5,707.2 1320.5,705.5 1324.5,699.2 1326.4,659.4 1330.4,659.4 1334.4,693.2 1337.4,674.1 1340.4,657.4 1344.4,659.4 1347.3,680.4 1350.3,695.2 1354.3,705.2 1358.3,685.4 1362.3,671.3 1365.2,691.1 1368.2,707.2 1372.2,691.2 1375.2,687.2 1378.2,687.3 1382.2,675.3 1386.1,661.4 1390.1,671.3 1393.1,686.8 1396.1,699.2 1400.1,697.2 1402.1,663.4 1405.0,659.1 1408.0,661.4 1412.0,681.3 1415.0,673.6 1418.0,659.4 1422.0,655.4 1425.9,679.3 1429.9,699.2 1432.9,693.6 1435.9,693.2 1438.9,695.5 1441.9,693.2 1445.8,679.3 1449.8,669.4" fill="none" stroke="#ff0000" stroke-width="6.5" stroke-linejoin="miter" stroke-miterlimit="3"/>
<polyline points="306.0,950.0 308.0,948.0 311.9,894.2 315.9,888.3 319.9,928.1 323.9,936.0 326.9,927.1 329.9,914.1 332.8,911.2 335.8,914.1 339.8,884.6 343.8,848.5 347.8,846.5 351.7,866.4 355.7,862.4 359.7,866.2 363.7,876.3 367.7,876.8 371.6,874.3 375.6,882.3 379.6,877.4 383.6,878.3 387.6,906.2 390.5,907.7 393.5,906.2 396.5,910.1 399.5,918.1 403.5,925.8 407.5,928.1 410.4,909.6 413.4,898.2 417.4,936.0 421.4,944.0 424.4,939.1 427.4,930.0 431.3,912.1 434.3,917.7 437.3,928.1 441.3,935.8 445.3,938.0 449.3,908.2 452.2,904.5 455.2,904.2 459.2,922.3 463.2,934.0 467.2,890.2 471.1,912.1 475.1,894.2 478.1,888.7 481.1,888.3 484.1,879.0 487.1,866.4 491.0,886.3 494.0,884.0 497.0,884.3 501.0,918.1 505.0,894.2 508.0,897.6 510.9,894.2 514.9,862.4 517.9,862.8 520.9,870.3 524.9,886.3 527.9,885.6 530.8,878.3 534.8,882.3 537.4,896.7 540.0,918.1 541.9,930.0 545.9,935.0 549.9,934.0 553.9,894.2 556.9,897.7 559.9,906.2 563.8,888.3 566.8,887.6 569.8,880.3 572.8,880.1 575.8,886.3 578.8,911.4 581.7,930.0 584.7,915.4 587.7,904.2 590.7,911.6 593.7,916.1 597.7,894.2 600.6,895.5 603.6,902.2 606.6,903.3 609.6,900.2 613.6,892.4 617.6,888.3 620.5,893.1 623.5,894.2 627.5,908.2 631.5,892.2 634.5,892.6 637.5,896.2 641.4,915.0 645.4,928.1 648.4,933.5 651.4,942.0 654.4,920.5 657.4,894.2 661.3,828.6 665.3,850.4 669.3,902.2 672.3,898.5 675.3,900.2 678.3,898.7 681.2,890.2 685.2,910.1 689.2,907.4 693.2,912.1 696.2,911.0 699.2,906.2 702.1,898.3 705.1,894.2 709.1,913.1 713.1,926.1 716.1,917.2 719.1,912.1 723.0,894.2 726.0,894.6 729.0,890.2 733.0,890.2 736.0,892.0 739.0,898.2 741.9,916.0 744.9,928.1 748.9,918.1 751.9,906.2 754.9,898.2 757.9,906.2 760.8,910.1 764.8,882.3 767.4,901.1 770.0,924.1 771.9,922.1 774.9,918.3 777.9,908.2 780.9,897.9 783.9,894.2 786.9,909.3 789.9,920.1 793.8,908.2 797.8,889.9 801.8,878.3 804.8,880.7 807.8,878.3 810.7,868.3 813.7,862.4 816.7,868.9 819.7,872.3 823.7,867.5 827.7,868.4 831.6,864.6 835.6,854.4 839.6,850.1 843.6,848.5 847.6,806.7 851.5,811.5 855.5,810.6 859.5,807.2 863.5,806.7 867.5,807.6 871.4,804.7 875.4,797.4 879.4,794.7 883.4,806.7 887.4,824.6 890.3,817.9 893.3,806.7 896.3,809.5 899.3,816.6 903.3,818.9 907.3,814.6 910.2,809.6 913.2,808.7 917.2,804.7 921.2,813.3 925.2,814.6 928.2,787.2 931.1,764.9 934.1,768.2 937.1,764.9 940.1,768.7 943.1,778.8 946.1,781.4 949.1,780.8 952.0,778.7 955.0,782.8 959.0,826.6 963.0,758.9 967.0,758.9 970.0,770.1 972.9,776.8 975.9,786.1 978.9,800.7 982.9,778.1 986.9,749.0 990.8,750.9 994.8,816.6 998.8,830.5 1000.0,822.6 1002.9,804.7 1005.9,792.7 1008.9,797.7 1011.9,798.7 1015.9,826.6 1018.9,820.4 1021.8,820.6 1025.8,804.7 1028.8,813.4 1031.8,818.6 1035.8,832.5 1038.8,830.1 1041.7,832.5 1045.7,840.5 1049.7,818.6 1053.7,820.6 1056.7,840.6 1059.7,856.4 1063.6,838.5 1067.6,806.7 1071.6,800.7 1074.6,804.7 1077.6,814.6 1081.5,838.5 1085.5,866.4 1089.5,890.2 1093.5,892.2 1096.5,905.9 1099.5,914.1 1103.4,888.3 1106.4,891.5 1109.4,898.2 1113.4,878.3 1117.4,858.4 1121.3,850.4 1124.3,846.8 1127.3,838.5 1130.3,835.2 1133.3,838.5 1137.3,836.0 1141.2,828.6 1144.2,821.3 1147.2,818.6 1151.2,822.6 1154.2,821.1 1157.2,812.6 1161.1,862.4 1165.1,872.3 1168.1,872.0 1171.1,876.3 1174.1,875.0 1177.1,866.4 1180.0,870.5 1183.0,878.3 1187.0,850.4 1191.0,836.5 1194.0,849.0 1197.0,858.4 1200.0,856.9 1202.9,858.4 1205.9,861.5 1208.9,860.4 1211.9,855.4 1214.9,856.4 1217.9,854.8 1220.8,850.4 1223.8,846.7 1226.8,846.5 1229.9,853.4 1232.9,856.4 1236.9,866.4 1240.9,832.5 1244.9,844.5 1248.8,862.4 1251.8,856.5 1254.8,856.4 1257.8,861.2 1260.8,862.4 1263.8,853.6 1266.7,850.4 1269.7,855.4 1272.7,856.4 1276.7,858.2 1280.7,864.4 1284.7,842.5 1287.6,847.5 1290.6,846.5 1294.6,856.1 1298.6,868.4 1302.6,870.7 1306.5,866.4 1310.5,874.3 1314.5,862.4 1318.5,870.3 1322.5,864.4 1325.4,856.8 1328.4,852.4 1331.4,855.0 1334.4,854.4 1338.4,855.4 1342.4,860.4 1346.3,857.1 1350.3,848.5 1353.3,847.5 1356.3,850.4 1358.3,866.4 1362.3,873.4 1366.2,874.3 1369.2,873.4 1372.2,876.3 1376.2,862.4 1380.2,882.3 1383.2,877.3 1386.1,866.4 1389.1,856.8 1392.1,854.4 1396.1,848.5 1399.1,872.5 1402.1,890.2 1405.0,880.0 1408.0,874.3 1412.0,873.7 1416.0,866.4 1419.0,857.7 1422.0,854.4 1425.9,860.4 1428.9,874.0 1431.9,884.3 1434.9,877.4 1437.9,874.3 1440.9,867.7 1443.9,858.4 1446.8,847.8 1449.8,842.5" fill="none" stroke="#0000ff" stroke-width="6.5" stroke-linejoin="miter" stroke-miterlimit="3"/>
<polyline points="306.0,975.8 308.0,959.9 310.9,960.9 313.9,957.9 316.9,961.6 319.9,967.9 323.9,971.8 327.9,953.9 330.8,947.6 333.8,934.0 336.8,935.7 339.8,942.0 343.8,930.0 346.8,933.8 349.8,934.0 352.7,928.0 355.7,926.1 357.7,870.3 360.7,883.9 363.7,894.2 366.7,902.5 369.7,914.1 372.6,917.4 375.6,916.1 379.6,884.3 382.6,878.9 385.6,880.3 388.6,893.1 391.5,900.2 395.5,904.2 399.5,850.4 402.5,848.9 405.5,852.4 409.5,880.3 412.4,870.9 415.4,858.4 419.4,858.4 422.4,867.9 425.4,884.3 429.4,874.3 432.3,889.0 435.3,900.2 439.3,858.4 442.3,855.4 445.3,856.4 448.3,862.5 451.2,864.4 454.2,869.8 457.2,880.3 460.2,876.9 463.2,870.3 467.2,867.5 471.1,868.4 475.1,866.1 479.1,858.4 483.1,852.0 487.1,852.4 492.0,850.1 497.0,842.5 500.0,860.8 503.0,886.3 507.0,881.3 510.9,870.3 514.9,886.0 518.9,908.2 522.9,888.3 526.9,871.2 530.8,850.4 534.8,848.5 537.4,859.4 540.0,876.3 543.9,868.4 546.9,875.8 549.9,880.3 553.9,864.1 557.9,850.4 561.8,856.4 565.8,890.2 569.8,886.3 573.8,802.7 577.8,870.3 581.7,896.2 585.7,864.1 589.7,824.6 592.7,823.4 595.7,826.6 599.7,868.4 602.6,873.5 605.6,874.3 609.6,876.3 613.6,846.5 617.6,856.4 621.5,874.3 625.5,862.4 629.5,858.4 633.5,868.4 637.5,851.2 641.4,838.5 645.4,870.3 649.4,874.3 653.4,878.3 657.4,875.7 661.3,866.4 664.3,857.5 667.3,854.4 671.3,896.2 674.3,889.5 677.3,878.3 681.2,872.3 684.2,877.6 687.2,890.2 690.2,900.5 693.2,904.2 697.2,878.3 700.1,876.1 703.1,876.3 706.1,885.3 709.1,890.2 713.1,877.9 717.1,868.4 721.0,870.3 725.0,885.3 729.0,894.2 733.0,870.3 737.0,850.4 740.0,854.6 742.9,854.4 745.9,854.9 748.9,858.4 751.9,878.0 754.9,890.2 757.9,884.2 760.8,884.3 763.8,885.8 766.8,882.3 770.0,862.4 771.9,878.3 774.9,869.6 777.9,866.4 780.9,853.7 783.9,834.5 787.9,838.5 791.8,854.4 794.8,843.2 797.8,836.5 800.8,854.4 803.8,866.4 807.8,876.3 811.7,860.8 815.7,850.4 818.7,853.4 821.7,850.4 824.7,847.6 827.7,850.4 830.6,858.1 833.6,858.4 836.6,843.8 839.6,832.5 843.6,832.5 846.6,845.0 849.6,854.4 853.5,851.1 857.5,850.4 861.5,822.6 866.5,823.4 871.4,820.6 874.4,848.3 877.4,882.3 881.4,904.2 884.4,901.4 887.4,894.2 891.3,848.5 894.3,843.3 897.3,842.5 901.3,848.5 905.3,822.6 908.3,841.8 911.2,856.4 915.2,832.0 919.2,814.6 923.2,786.8 926.2,792.6 929.2,792.7 933.1,824.6 937.1,824.6 941.1,810.6 945.1,840.5 948.1,837.1 951.0,838.5 955.0,816.6 959.0,882.3 963.0,886.3 966.0,877.1 969.0,864.4 972.9,814.6 976.9,818.6 980.9,832.5 983.9,832.5 986.9,836.5 990.8,836.2 994.8,830.5 998.8,814.6 1001.9,834.5 1005.9,862.4 1009.9,856.4 1012.9,856.9 1015.9,864.4 1018.9,855.9 1021.8,842.5 1025.8,866.4 1028.8,866.8 1031.8,870.3 1034.8,871.0 1037.8,868.4 1040.7,862.2 1043.7,862.4 1047.7,857.3 1051.7,848.5 1055.7,868.4 1058.7,869.5 1061.6,874.3 1064.6,870.3 1067.6,862.4 1071.6,854.4 1075.6,878.3 1079.6,900.2 1083.5,870.3 1087.5,858.4 1090.5,837.6 1093.5,822.6 1096.5,831.2 1099.5,832.5 1103.4,829.4 1107.4,832.5 1111.4,842.5 1114.4,847.8 1117.4,848.5 1120.3,833.4 1123.3,824.6 1126.3,839.0 1129.3,846.5 1132.3,855.4 1135.3,868.4 1138.3,858.7 1141.2,846.5 1144.2,845.1 1147.2,848.5 1150.2,849.4 1153.2,844.5 1156.2,846.3 1159.2,854.4 1162.1,857.7 1165.1,854.4 1168.1,833.8 1171.1,818.6 1175.1,823.1 1179.1,822.6 1182.0,834.9 1185.0,854.4 1188.0,848.0 1191.0,834.5 1194.0,832.5 1197.0,836.5 1200.0,834.9 1202.9,826.6 1206.9,856.4 1210.9,840.5 1213.9,837.8 1216.9,838.5 1219.9,845.8 1222.8,846.5 1226.9,844.5 1230.9,822.6 1234.9,838.5 1237.9,834.4 1240.9,836.5 1244.9,834.5 1248.8,838.5 1251.8,844.1 1254.8,842.5 1257.8,839.2 1260.8,838.5 1264.8,812.6 1268.7,814.6 1272.7,852.4 1275.7,831.1 1278.7,802.7 1282.7,802.7 1286.6,838.5 1290.6,836.5 1294.6,816.6 1298.6,824.6 1302.6,850.4 1306.5,849.3 1310.5,854.4 1314.5,850.4 1318.5,828.6 1321.5,827.2 1324.5,818.6 1327.4,815.1 1330.4,814.6 1334.4,786.8 1338.4,792.7 1342.4,798.7 1346.3,800.7 1350.3,826.6 1354.3,814.6 1358.3,810.6 1361.3,824.6 1364.3,834.5 1367.2,825.1 1370.2,818.6 1374.2,848.5 1377.2,847.5 1380.2,840.5 1383.2,828.6 1386.1,822.6 1389.1,827.6 1392.1,828.6 1395.1,825.6 1398.1,826.6 1401.1,843.6 1404.1,854.4 1408.0,832.5 1411.0,809.4 1414.0,792.7 1417.0,797.1 1420.0,798.7 1424.0,818.6 1427.9,836.5 1430.9,830.5 1433.9,828.6 1437.9,822.6 1440.9,832.2 1443.9,836.5 1446.8,816.0 1449.8,800.7" fill="none" stroke="#008000" stroke-width="6.5" stroke-linejoin="miter" stroke-miterlimit="3"/>
<polyline points="302.2,1161.0 308.6,1111.5 312.9,1111.5 317.2,1215.6 321.5,1215.6 328.0,1268.6 332.3,1268.6 338.7,1111.5 343.0,1111.5 349.5,1236.3 356.0,1215.6 362.4,1137.3 366.7,1137.3 373.2,1268.6 377.5,1268.6 388.3,1161.0 394.7,1161.0 401.2,1242.1 411.9,1320.2 416.2,1320.2 427.0,1188.9 437.8,1188.9 442.1,1242.1 446.4,1215.6 450.7,1215.6 455.0,1242.1 467.9,1242.1 472.2,1163.1 478.7,1163.1 485.1,1189.4 489.4,1215.6 495.9,1215.6 502.3,1163.1 506.6,1163.1 510.9,1215.6 515.2,1215.6 519.6,1163.1 523.9,1163.1 528.2,1215.6 540.0,1215.6 540.8,1214.8 545.1,1191.1 549.4,1191.1 551.5,1240.6 555.8,1214.8 562.3,1137.3 566.6,1137.3 569.8,1165.3 575.2,1165.3 577.4,1266.4 581.7,1214.8 588.1,1165.3 592.4,1188.9 594.6,1214.8 603.2,1214.8 607.5,1240.6 611.8,1191.1 616.1,1240.6 622.6,1165.3 626.9,1191.1 631.2,1240.6 637.6,1188.9 644.1,1188.9 646.2,1266.4 652.7,1191.1 659.1,1266.4 663.5,1294.4 680.7,1191.1 682.8,1240.6 689.3,1214.8 693.6,1214.8 700.0,1165.3 704.3,1214.8 710.8,1191.1 717.3,1191.1 721.6,1191.1 728.0,1111.5 732.3,1111.5 738.8,1085.6 743.1,1111.5 747.4,1214.8 753.9,1137.3 756.0,1137.3 758.2,1266.4 762.5,1214.8 770.0,1214.8 770.8,1214.8 772.9,1214.8 777.2,1111.5 783.7,1111.5 788.0,1137.3 792.3,1188.9 796.6,1165.3 800.9,1165.3 805.2,1214.8 809.5,1214.8 811.7,1165.3 816.0,1165.3 822.4,1214.8 826.7,1191.1 831.0,1193.2 837.5,1242.8 843.9,1242.8 846.1,1165.3 852.6,1165.3 859.0,1191.1 865.5,1165.3 869.8,1214.8 874.1,1214.8 880.5,1191.1 889.1,1165.3 893.5,1165.3 897.8,1191.1 902.1,1191.1 906.4,1240.6 910.7,1214.8 921.4,1214.8 927.9,1266.4 934.3,1191.1 940.8,1191.1 943.0,1240.6 947.3,1165.3 953.7,1165.3 960.2,1266.4 966.6,1214.8 970.9,1214.8 975.2,1266.4 979.6,1191.1 983.9,1165.3 988.2,1242.8 1000.0,1214.8 1002.9,1214.8 1009.4,1137.3 1015.8,1137.3 1022.3,1085.6 1026.6,1214.8 1033.0,1268.6 1043.8,1268.6 1048.1,1216.9 1054.6,1165.3 1065.3,1165.3 1069.6,1240.6 1073.9,1214.8 1078.3,1191.1 1089.0,1191.1 1095.5,1268.6 1101.9,1242.8 1110.5,1242.8 1119.1,1191.1 1125.6,1191.1 1129.9,1214.8 1134.2,1216.9 1138.5,1320.2 1142.8,1320.2 1149.3,1191.1 1155.7,1214.8 1162.2,1268.6 1166.5,1242.8 1175.1,1240.6 1183.7,1191.1 1188.0,1214.8 1196.6,1268.6 1203.1,1242.8 1209.6,1242.8 1213.9,1216.9 1218.2,1216.9 1224.6,1242.8 1230.0,1268.6 1232.2,1268.6 1236.5,1242.8 1240.8,1165.3 1245.1,1165.3 1251.6,1266.4 1260.2,1214.8 1266.7,1214.8 1275.3,1294.4 1279.6,1244.9 1290.3,1294.4 1294.6,1268.6 1301.1,1165.3 1305.4,1266.4 1314.0,1165.3 1320.5,1214.8 1331.2,1214.8 1339.8,1214.8 1346.3,1294.4 1352.8,1216.9 1357.1,1268.6 1361.4,1266.4 1367.8,1191.1 1372.1,1191.1 1380.7,1294.4 1385.0,1294.4 1387.2,1240.6 1400.1,1214.8 1406.6,1214.8 1410.9,1294.4 1415.2,1292.3 1421.6,1214.8 1428.1,1214.8 1432.4,1139.4 1438.9,1165.3 1445.3,1214.8 1449.6,1191.1" fill="none" stroke="#ff0000" stroke-width="6.5" stroke-linejoin="miter" stroke-miterlimit="3"/>
<polyline points="302.2,1270.7 308.6,1318.1 312.9,1244.9 321.5,1244.9 325.8,1268.6 334.4,1165.3 338.7,1165.3 345.2,1242.8 351.7,1242.8 360.3,1296.6 364.6,1296.6 373.2,1270.7 381.8,1296.6 386.1,1322.4 392.6,1216.9 396.9,1216.9 403.3,1322.4 407.6,1216.9 411.9,1214.8 416.2,1191.1 420.5,1292.3 427.0,1266.4 433.5,1266.4 437.8,1292.3 442.1,1244.9 450.7,1348.2 455.0,1348.2 463.6,1244.9 470.0,1242.8 472.2,1348.2 478.7,1188.9 483.0,1188.9 489.4,1240.6 493.7,1242.8 498.0,1268.6 502.3,1268.6 506.6,1294.4 510.9,1294.4 517.4,1242.8 532.5,1242.8 540.0,1268.6 542.9,1294.4 547.2,1294.4 553.7,1242.8 562.3,1216.9 566.6,1322.4 570.9,1322.4 577.4,1326.7 586.0,1216.9 590.3,1216.9 594.6,1322.4 601.0,1242.8 605.3,1247.1 611.8,1296.6 618.3,1296.6 620.4,1322.4 626.9,1268.6 633.3,1294.4 641.9,1294.4 650.5,1348.2 657.0,1374.1 663.5,1294.4 669.9,1216.9 674.2,1216.9 680.7,1294.4 685.0,1268.6 691.4,1216.9 695.7,1348.2 702.2,1322.4 706.5,1191.1 710.8,1294.4 717.3,1242.8 721.6,1268.6 725.9,1348.2 730.2,1165.3 736.6,1242.8 740.9,1242.8 745.2,1294.4 756.0,1294.4 762.5,1242.8 770.0,1300.9 770.8,1292.3 775.1,1348.2 781.5,1348.2 792.3,1348.2 800.9,1348.2 809.5,1399.9 818.1,1399.9 822.4,1270.7 826.7,1348.2 835.3,1374.1 839.6,1322.4 846.1,1322.4 848.3,1191.1 856.9,1191.1 859.0,1268.6 863.3,1193.2 865.5,1348.2 869.8,1219.1 874.1,1322.4 878.4,1322.4 880.5,1191.1 884.8,1214.8 889.1,1242.8 895.6,1242.8 902.1,1294.4 910.7,1294.4 915.0,1294.4 919.3,1320.2 923.6,1216.9 930.0,1268.6 934.3,1318.1 938.7,1320.2 943.0,1268.6 947.3,1318.1 951.6,1318.1 958.0,1268.6 968.8,1165.3 975.2,1242.8 979.6,1191.1 983.9,1242.8 990.3,1165.3 992.5,1242.8 996.8,1268.6 1000.0,1165.3 1002.9,1165.3 1007.2,1191.1 1011.5,1214.8 1015.8,1165.3 1022.3,1139.4 1028.7,1191.1 1033.0,1191.1 1037.4,1240.6 1041.7,1139.4 1046.0,1214.8 1052.4,1240.6 1061.0,1165.3 1065.3,1214.8 1071.8,1214.8 1080.4,1214.8 1084.7,1268.6 1089.0,1214.8 1093.3,1191.1 1097.6,1191.1 1104.1,1111.5 1108.4,1111.5 1112.7,1165.3 1119.1,1188.9 1127.8,1006.0 1132.1,1006.0 1136.4,1111.5 1140.7,1111.5 1145.0,1191.1 1149.3,1137.3 1155.7,1137.3 1160.0,1216.9 1164.3,1085.6 1168.7,1240.6 1175.1,1165.3 1179.4,1137.3 1183.7,1163.1 1188.0,1031.8 1192.3,1031.8 1196.6,1137.3 1203.1,1059.8 1207.4,1059.8 1211.7,1137.3 1218.2,1139.4 1222.5,1163.1 1226.8,1059.8 1230.0,1059.8 1234.4,1111.5 1240.8,1111.5 1245.1,1135.1 1249.4,1085.6 1253.7,1107.1 1260.2,1161.0 1266.7,1139.4 1268.8,1188.9 1275.3,1165.3 1279.6,1214.8 1286.0,1165.3 1292.5,1161.0 1301.1,1059.8 1309.7,1059.8 1314.0,1059.8 1320.5,1161.0 1326.9,1135.1 1331.2,1059.8 1337.7,1214.8 1344.1,1031.8 1348.5,1107.1 1354.9,1059.8 1361.4,1059.8 1367.8,1111.5 1372.1,1188.9 1376.4,1111.5 1382.9,1137.3 1387.2,1137.3 1391.5,1294.4 1395.8,1294.4 1398.0,1139.4 1404.4,1191.1 1413.0,1191.1 1417.3,1163.1 1423.8,1163.1 1430.2,1111.5 1436.7,1135.1 1443.2,1137.3 1449.6,1188.9" fill="none" stroke="#0000ff" stroke-width="6.5" stroke-linejoin="miter" stroke-miterlimit="3"/>
<polyline points="302.2,1374.1 308.6,1348.2 312.9,1348.2 319.4,1425.7 325.8,1348.2 330.1,1374.1 334.4,1294.4 343.0,1294.4 345.2,1399.9 349.5,1270.7 356.0,1348.2 362.4,1322.4 366.7,1348.2 373.2,1374.1 379.6,1294.4 383.9,1294.4 390.4,1348.2 394.7,1322.4 401.2,1322.4 407.6,1374.1 414.1,1322.4 420.5,1322.4 427.0,1374.1 433.5,1294.4 439.9,1374.1 446.4,1374.1 455.0,1348.2 461.4,1374.1 467.9,1294.4 472.2,1294.4 478.7,1348.2 485.1,1322.4 491.6,1322.4 495.9,1294.4 502.3,1348.2 506.6,1294.4 515.2,1399.9 523.9,1348.2 528.2,1322.4 532.5,1348.2 540.0,1348.2 540.8,1322.4 545.1,1348.2 551.5,1348.2 558.0,1296.6 562.3,1296.6 566.6,1348.2 573.0,1322.4 579.5,1322.4 586.0,1296.6 592.4,1374.1 603.2,1374.1 607.5,1320.2 611.8,1322.4 616.1,1374.1 620.4,1348.2 626.9,1296.6 631.2,1348.2 637.6,1348.2 644.1,1296.6 650.5,1346.1 657.0,1268.6 661.3,1348.2 680.7,1348.2 687.1,1374.1 695.7,1374.1 700.0,1399.9 706.5,1348.2 710.8,1348.2 715.1,1427.9 719.4,1427.9 723.7,1348.2 732.3,1322.4 736.6,1451.5 740.9,1451.5 745.2,1348.2 749.6,1348.2 753.9,1427.9 758.2,1348.2 762.5,1348.2 770.0,1348.2 772.9,1348.2 779.4,1374.1 783.7,1296.6 788.0,1296.6 792.3,1322.4 798.7,1322.4 800.9,1399.9 805.2,1399.9 809.5,1348.2 816.0,1348.2 822.4,1374.1 833.2,1374.1 841.8,1374.1 848.3,1374.1 850.4,1322.4 854.7,1348.2 859.0,1374.1 863.3,1374.1 867.6,1427.9 874.1,1427.9 880.5,1374.1 884.8,1399.9 891.3,1399.9 895.6,1374.1 919.3,1374.1 923.6,1399.9 932.2,1399.9 936.5,1374.1 940.8,1399.9 945.1,1374.1 951.6,1399.9 955.9,1374.1 960.2,1374.1 964.5,1399.9 970.9,1348.2 975.2,1399.9 979.6,1399.9 986.0,1348.2 990.3,1348.2 994.6,1399.9 1000.0,1399.9 1002.9,1374.1 1007.2,1425.7 1011.5,1399.9 1020.1,1399.9 1026.6,1296.6 1033.0,1322.4 1037.0,1348.1 1039.4,1374.5 1041.8,1348.1 1044.2,1374.5 1046.6,1348.1 1049.0,1374.5 1051.4,1348.1 1053.8,1374.5 1058.9,1348.2 1063.2,1425.7 1069.6,1399.9 1091.2,1399.9 1094.0,1400.9 1096.4,1427.3 1098.8,1400.9 1101.2,1427.3 1103.6,1400.9 1106.0,1427.3 1108.4,1400.9 1110.8,1427.3 1113.2,1400.9 1115.6,1427.3 1119.1,1399.9 1140.7,1399.9 1145.0,1425.7 1151.4,1399.9 1157.9,1425.7 1166.5,1374.1 1173.0,1425.7 1183.7,1425.7 1190.2,1399.9 1196.6,1399.9 1203.1,1374.1 1209.6,1425.7 1216.0,1425.7 1222.5,1399.9 1228.9,1348.2 1231.1,1348.2 1236.5,1399.9 1238.0,1400.9 1240.4,1427.3 1242.8,1400.9 1245.2,1427.3 1247.6,1400.9 1250.0,1427.3 1252.4,1400.9 1254.8,1427.3 1257.2,1400.9 1259.6,1427.3 1262.0,1400.9 1264.4,1427.3 1266.8,1400.9 1269.2,1427.3 1271.0,1374.1 1275.3,1399.9 1279.6,1399.9 1283.9,1374.1 1288.2,1425.7 1301.1,1425.7 1304.0,1400.9 1306.4,1427.3 1308.8,1400.9 1311.2,1427.3 1313.6,1400.9 1316.0,1427.3 1322.6,1348.2 1326.9,1374.1 1331.2,1425.7 1333.0,1400.9 1335.4,1427.3 1337.8,1400.9 1340.2,1427.3 1342.6,1400.9 1345.0,1427.3 1347.4,1400.9 1349.8,1427.3 1357.1,1374.1 1363.5,1399.9 1374.3,1399.9 1380.7,1374.1 1387.2,1425.7 1391.5,1322.4 1398.0,1322.4 1399.0,1374.5 1401.4,1400.9 1403.8,1374.5 1406.2,1400.9 1408.6,1374.5 1411.0,1400.9 1413.4,1374.5 1415.8,1400.9 1418.2,1374.5 1420.6,1400.9 1423.0,1374.5 1425.4,1400.9 1427.8,1374.5 1432.4,1399.9 1449.6,1399.9" fill="none" stroke="#008000" stroke-width="6.5" stroke-linejoin="miter" stroke-miterlimit="3"/>
<polyline points="302.2,1561.6 306.5,1488.4 310.8,1518.6 314.0,1537.1 317.2,1548.7 321.5,1548.7 324.8,1544.3 328.0,1544.4 331.2,1570.7 334.4,1593.9 338.7,1591.8 343.0,1518.6 347.4,1570.2 351.7,1570.2 356.0,1550.9 359.2,1552.8 362.4,1557.3 366.7,1533.6 371.0,1561.6 375.3,1587.5 378.6,1578.9 381.8,1563.8 386.1,1604.7 390.4,1559.5 394.7,1561.6 397.9,1537.1 401.2,1516.4 405.5,1518.6 409.8,1544.4 413.0,1562.5 416.2,1576.7 420.5,1518.6 424.8,1520.7 429.1,1525.0 433.5,1527.2 437.8,1572.4 442.1,1548.7 446.4,1545.6 450.7,1548.7 455.0,1556.1 459.3,1559.5 463.6,1604.7 467.9,1604.7 472.2,1561.6 476.5,1547.7 480.8,1540.1 485.1,1574.5 489.4,1619.7 493.7,1619.7 497.0,1562.0 500.2,1501.4 504.5,1535.8 508.8,1591.8 512.0,1595.6 515.2,1604.7 519.6,1606.6 523.9,1604.7 528.2,1593.9 531.4,1563.6 534.6,1535.8 537.3,1538.9 540.0,1535.8 540.8,1540.1 542.9,1540.1 546.1,1551.5 549.4,1570.2 552.6,1591.6 555.8,1606.8 559.1,1584.9 562.3,1565.9 566.6,1570.2 570.9,1649.9 575.2,1649.9 578.4,1620.3 581.7,1587.5 584.9,1597.3 588.1,1613.3 591.3,1600.9 594.6,1583.1 598.9,1649.9 603.2,1643.4 606.4,1616.2 609.6,1596.1 613.9,1583.1 618.3,1649.9 622.6,1609.0 626.9,1591.8 631.2,1593.9 634.4,1577.8 637.6,1557.3 641.9,1553.0 646.2,1609.0 649.5,1604.7 652.7,1604.7 657.0,1557.3 661.3,1609.0 664.5,1612.2 667.8,1609.0 672.1,1535.8 675.3,1533.0 678.5,1535.8 682.8,1609.0 686.1,1594.8 689.3,1576.7 693.6,1565.9 697.9,1613.3 702.2,1593.9 705.4,1591.2 708.7,1593.9 711.9,1618.9 715.1,1639.1 719.4,1643.4 722.6,1621.9 725.9,1604.7 729.1,1609.9 732.3,1609.0 736.6,1613.3 739.9,1573.6 743.1,1537.9 747.4,1535.8 749.6,1630.5 752.8,1633.0 756.0,1628.3 759.2,1612.8 762.5,1604.7 766.8,1574.5 770.0,1574.5 772.9,1615.4 776.1,1600.6 779.4,1581.0 782.6,1576.3 785.8,1578.8 789.1,1560.0 792.3,1537.9 795.5,1535.7 798.7,1540.1 803.0,1600.4 807.4,1605.0 811.7,1604.7 816.0,1537.9 820.3,1587.5 824.6,1583.1 827.8,1583.6 831.0,1587.5 834.3,1591.1 837.5,1587.5 841.8,1554.3 846.1,1527.2 849.3,1564.0 852.6,1593.9 856.9,1596.1 860.1,1584.0 863.3,1574.5 867.6,1572.7 871.9,1565.9 875.2,1563.7 878.4,1565.9 881.6,1569.5 884.8,1568.1 889.1,1551.6 893.5,1537.9 896.7,1539.9 899.9,1537.9 904.2,1593.9 907.4,1555.4 910.7,1520.7 913.9,1522.1 917.1,1520.7 920.4,1532.6 923.6,1550.9 927.9,1540.2 932.2,1522.9 936.5,1522.9 940.8,1589.6 944.0,1561.5 947.3,1540.1 951.6,1537.9 954.8,1531.9 958.0,1522.9 962.3,1544.4 965.6,1550.6 968.8,1563.8 972.0,1561.1 975.2,1550.9 978.5,1534.8 981.7,1522.9 986.0,1486.3 990.3,1488.4 994.6,1550.9 997.3,1552.1 1000.0,1546.6 1000.8,1533.6 1005.1,1548.7 1008.3,1549.6 1011.5,1557.3 1015.8,1561.6 1019.1,1536.8 1022.3,1507.8 1025.5,1524.8 1028.7,1544.4 1033.0,1548.7 1036.3,1576.8 1039.5,1600.4 1042.7,1563.2 1046.0,1531.5 1050.3,1587.5 1053.5,1622.4 1056.7,1654.2 1061.0,1576.7 1065.3,1578.8 1068.6,1583.1 1071.8,1593.9 1075.0,1567.5 1078.3,1537.9 1081.5,1561.7 1084.7,1591.8 1087.9,1601.6 1091.2,1604.7 1095.5,1548.7 1099.8,1604.7 1103.0,1627.4 1106.2,1654.2 1110.5,1561.6 1113.8,1550.1 1117.0,1535.8 1121.3,1537.9 1125.6,1617.6 1128.8,1619.1 1132.1,1626.2 1135.3,1639.9 1138.5,1647.7 1142.8,1553.0 1147.1,1617.6 1150.4,1616.2 1153.6,1617.6 1157.9,1583.1 1162.2,1568.1 1166.5,1639.1 1169.7,1641.9 1173.0,1639.1 1176.2,1617.9 1179.4,1602.5 1183.7,1600.8 1188.0,1591.8 1192.3,1561.6 1196.6,1561.6 1200.9,1619.7 1204.2,1615.2 1207.4,1615.4 1211.7,1634.8 1214.9,1642.9 1218.2,1643.4 1221.4,1644.7 1224.6,1649.9 1226.8,1617.6 1230.0,1617.6 1232.2,1624.0 1236.5,1652.0 1240.8,1637.0 1245.1,1688.6 1249.4,1658.5 1253.7,1587.5 1257.0,1614.7 1260.2,1634.8 1264.5,1624.0 1268.8,1667.1 1273.1,1664.9 1277.4,1617.6 1281.7,1669.2 1286.0,1593.9 1290.3,1553.0 1294.6,1574.5 1297.9,1594.7 1301.1,1617.6 1305.4,1634.6 1309.7,1647.7 1314.0,1626.2 1317.2,1612.1 1320.5,1602.5 1323.7,1610.3 1326.9,1611.1 1331.2,1609.6 1335.5,1613.3 1339.8,1572.4 1344.1,1576.7 1348.5,1611.9 1352.8,1643.4 1356.0,1620.5 1359.2,1604.7 1363.5,1574.5 1367.8,1645.6 1371.1,1634.2 1374.3,1615.4 1378.6,1624.0 1382.9,1637.0 1387.2,1585.3 1390.4,1607.0 1393.7,1624.0 1396.9,1612.4 1400.1,1604.7 1404.4,1600.7 1408.7,1593.9 1413.0,1583.0 1417.3,1578.8 1420.6,1603.3 1423.8,1624.0 1427.0,1629.2 1430.2,1641.3 1433.5,1635.8 1436.7,1624.0 1439.9,1625.0 1443.2,1630.5 1446.4,1625.3 1449.6,1613.3" fill="none" stroke="#ff0000" stroke-width="6.5" stroke-linejoin="miter" stroke-miterlimit="3"/>
<polyline points="304.3,1794.1 308.6,1837.1 312.9,1837.2 317.2,1832.8 321.5,1815.6 325.8,1807.0 329.1,1810.3 332.3,1819.9 335.5,1813.2 338.7,1802.7 343.0,1755.3 347.4,1804.9 351.7,1824.2 356.0,1781.2 359.2,1791.8 362.4,1807.0 366.7,1781.2 371.0,1811.3 375.3,1789.8 378.6,1796.9 381.8,1798.4 385.0,1798.5 388.3,1802.7 392.6,1817.8 396.9,1798.3 401.2,1774.7 404.4,1772.8 407.6,1774.7 411.9,1794.5 416.2,1807.0 419.5,1801.6 422.7,1802.7 425.9,1780.8 429.1,1755.3 433.5,1733.8 437.8,1731.7 442.1,1794.1 445.3,1771.3 448.5,1751.0 452.8,1811.3 457.1,1785.5 460.4,1787.9 463.6,1783.3 467.9,1748.9 472.2,1755.3 476.5,1791.9 480.8,1776.9 485.1,1804.9 487.3,1761.8 490.5,1751.0 493.7,1744.6 498.0,1744.6 502.3,1738.1 506.6,1768.3 510.9,1766.1 513.1,1738.1 516.3,1736.0 519.6,1738.1 522.8,1760.5 526.0,1776.9 529.2,1765.9 532.5,1759.7 536.8,1733.8 540.0,1731.7 540.8,1768.3 542.9,1774.7 547.2,1744.6 551.5,1751.0 555.8,1751.0 558.0,1718.8 562.3,1721.5 566.6,1720.9 570.9,1729.5 575.2,1720.9 579.5,1757.5 582.7,1756.6 586.0,1759.7 590.3,1740.3 594.6,1745.2 598.9,1746.7 602.1,1731.8 605.3,1723.1 609.6,1725.3 613.9,1720.9 616.1,1798.4 620.4,1761.8 624.7,1758.7 629.0,1759.7 633.3,1748.9 636.5,1751.2 639.8,1746.7 644.1,1738.1 648.4,1776.9 651.6,1791.9 654.8,1811.3 659.1,1755.3 662.4,1755.6 665.6,1748.9 668.8,1768.1 672.1,1791.9 675.3,1781.1 678.5,1766.1 682.8,1789.8 687.1,1796.7 691.4,1807.0 694.7,1785.3 697.9,1757.5 701.1,1765.3 704.3,1776.9 708.7,1781.2 711.9,1779.0 715.1,1770.4 720.5,1765.8 725.9,1766.1 729.1,1747.2 732.3,1720.9 736.6,1731.7 740.9,1783.3 745.2,1736.0 749.6,1746.7 753.9,1712.3 758.2,1712.3 761.4,1715.3 764.6,1720.9 767.3,1713.4 770.0,1699.4 772.9,1703.7 777.2,1708.0 781.5,1709.3 785.8,1714.4 789.1,1690.3 792.3,1660.6 796.6,1690.8 799.8,1717.2 803.0,1751.0 807.4,1716.6 810.6,1725.7 813.8,1729.5 817.0,1721.5 820.3,1716.6 824.6,1697.2 827.8,1697.9 831.0,1692.9 835.3,1671.4 839.6,1690.8 842.9,1704.3 846.1,1725.2 849.3,1709.6 852.6,1688.6 855.8,1687.5 859.0,1690.8 862.2,1714.8 865.5,1733.8 868.7,1742.6 871.9,1755.3 876.2,1725.2 879.5,1735.9 882.7,1740.3 884.8,1708.0 889.1,1698.3 893.5,1692.9 896.7,1705.1 899.9,1710.1 903.1,1704.6 906.4,1705.8 910.7,1740.3 915.0,1729.5 918.2,1732.5 921.4,1731.7 925.7,1744.6 929.0,1725.4 932.2,1712.3 936.5,1738.1 939.7,1730.3 943.0,1718.8 946.2,1727.1 949.4,1742.4 953.7,1701.5 957.0,1730.9 960.2,1753.2 964.5,1779.0 968.8,1723.1 973.1,1708.0 977.4,1680.0 981.7,1710.1 986.0,1755.3 989.2,1762.1 992.5,1774.7 996.8,1699.4 1000.0,1662.8 1000.8,1738.1 1004.0,1695.4 1007.2,1645.6 1011.5,1723.1 1014.8,1717.3 1018.0,1714.4 1021.2,1721.7 1024.4,1723.1 1027.7,1743.9 1030.9,1768.3 1035.2,1766.1 1039.5,1725.2 1043.8,1742.4 1048.1,1725.2 1051.3,1741.4 1054.6,1753.2 1058.9,1747.2 1063.2,1744.6 1065.3,1716.6 1068.6,1722.2 1071.8,1723.1 1076.1,1718.8 1080.4,1740.3 1084.7,1712.3 1087.9,1715.6 1091.2,1723.1 1094.4,1702.8 1097.6,1675.7 1101.9,1674.2 1106.2,1680.0 1108.4,1785.5 1112.7,1720.9 1117.0,1718.8 1121.3,1845.7 1125.6,1865.1 1129.9,1794.1 1133.1,1769.0 1136.4,1738.1 1140.7,1703.7 1145.0,1703.4 1149.3,1705.8 1153.6,1729.5 1157.9,1798.4 1161.1,1797.3 1164.3,1789.8 1168.7,1830.7 1171.9,1831.8 1175.1,1839.3 1179.4,1794.1 1183.7,1850.1 1188.0,1813.5 1192.3,1779.0 1196.6,1852.2 1199.9,1838.1 1203.1,1817.8 1206.3,1821.5 1209.6,1828.5 1213.9,1768.3 1218.2,1802.7 1221.4,1801.6 1224.6,1796.2 1227.3,1801.1 1230.0,1809.2 1232.2,1811.3 1236.5,1811.3 1240.8,1781.2 1245.1,1785.5 1249.4,1822.1 1253.7,1819.9 1258.0,1768.3 1262.4,1766.1 1266.7,1809.2 1271.0,1811.3 1274.2,1813.3 1277.4,1809.2 1281.7,1807.0 1286.0,1764.0 1288.2,1766.1 1290.3,1854.4 1294.6,1835.0 1298.9,1825.9 1303.3,1824.2 1305.4,1819.9 1309.7,1850.1 1314.0,1880.2 1318.3,1826.4 1321.5,1826.9 1324.8,1824.2 1326.9,1863.0 1331.2,1856.9 1335.5,1856.5 1339.8,1841.4 1344.1,1783.3 1348.5,1785.5 1352.8,1822.1 1357.1,1845.7 1360.3,1827.9 1363.5,1807.0 1367.8,1809.2 1372.1,1830.7 1375.4,1828.4 1378.6,1832.8 1382.9,1847.9 1387.2,1798.4 1391.5,1751.0 1395.8,1753.2 1400.1,1828.5 1403.3,1825.5 1406.6,1817.8 1409.8,1834.9 1413.0,1858.7 1417.3,1802.7 1421.6,1807.0 1425.9,1837.1 1430.2,1839.3 1433.5,1842.7 1436.7,1843.6 1439.9,1828.9 1443.2,1819.9 1446.4,1817.3 1449.6,1809.2" fill="none" stroke="#0000ff" stroke-width="6.5" stroke-linejoin="miter" stroke-miterlimit="3"/>
<polyline points="304.3,1557.3 308.6,1555.2 312.9,1486.3 316.1,1473.1 319.4,1456.2 323.7,1540.1 326.9,1537.6 330.1,1540.1 334.4,1473.4 337.7,1477.4 340.9,1475.5 344.1,1540.1 345.2,1671.4 349.5,1615.4 353.8,1617.6 358.1,1654.2 361.3,1620.5 364.6,1591.8 368.9,1587.5 373.2,1630.5 377.5,1617.6 380.7,1632.1 383.9,1643.4 387.2,1620.7 390.4,1604.7 393.6,1600.4 396.9,1591.8 400.1,1565.8 403.3,1546.6 407.6,1630.5 411.9,1600.4 415.2,1598.1 418.4,1591.8 421.6,1575.1 424.8,1561.6 429.1,1557.3 433.5,1617.6 437.8,1550.9 441.0,1553.0 444.2,1550.9 448.5,1643.4 450.7,1533.6 455.0,1654.2 459.3,1535.8 463.6,1505.7 467.9,1531.5 471.1,1528.5 474.3,1531.5 478.7,1604.7 483.0,1531.5 486.2,1537.8 489.4,1540.1 492.6,1560.9 495.9,1587.5 500.2,1593.4 504.5,1593.9 507.7,1623.8 510.9,1660.6 515.2,1660.6 519.6,1617.6 522.8,1627.6 526.0,1630.5 529.2,1631.9 532.5,1637.0 536.2,1616.7 540.0,1593.9 540.8,1596.1 542.9,1600.4 546.1,1614.0 549.4,1632.7 553.7,1604.7 558.0,1550.9 562.3,1555.2 566.6,1624.0 570.9,1624.0 573.0,1525.0 577.4,1578.8 580.6,1629.8 583.8,1673.6 588.1,1578.8 592.4,1494.9 596.7,1497.0 601.0,1514.3 605.3,1593.9 609.6,1593.9 612.9,1547.9 616.1,1505.7 620.4,1593.9 624.7,1544.4 627.9,1549.1 631.2,1550.9 635.5,1609.0 639.8,1570.2 644.1,1572.4 647.3,1596.4 650.5,1626.2 654.8,1593.9 658.1,1590.0 661.3,1583.1 665.6,1604.7 669.9,1654.2 673.1,1651.7 676.4,1654.2 680.7,1626.2 683.9,1629.7 687.1,1630.5 691.4,1576.7 694.7,1575.0 697.9,1578.8 700.0,1561.6 704.3,1563.8 708.7,1718.8 713.0,1718.8 717.3,1658.5 720.5,1668.1 723.7,1671.4 727.0,1653.9 730.2,1641.3 734.5,1638.2 738.8,1632.7 743.1,1680.0 746.3,1678.3 749.6,1682.2 753.9,1656.3 758.2,1665.4 762.5,1669.2 766.8,1624.0 770.0,1624.0 772.9,1684.3 776.1,1670.0 779.4,1660.6 782.6,1634.2 785.8,1604.7 789.1,1609.3 792.3,1619.7 796.6,1604.7 799.8,1602.5 803.0,1593.9 806.3,1594.9 809.5,1602.5 812.7,1596.1 816.0,1583.1 819.2,1596.7 822.4,1617.6 826.7,1587.5 830.0,1593.7 833.2,1593.9 837.5,1587.5 841.8,1604.7 845.0,1600.8 848.3,1602.5 851.5,1621.2 854.7,1637.0 857.9,1617.6 861.2,1604.7 865.5,1637.0 868.7,1622.7 871.9,1604.7 875.2,1607.1 878.4,1615.4 881.6,1589.9 884.8,1557.3 889.1,1578.8 892.4,1625.2 895.6,1675.7 898.8,1654.6 902.1,1626.2 905.3,1607.5 908.5,1591.8 911.7,1617.8 915.0,1637.0 919.3,1641.3 922.5,1613.2 925.7,1589.6 929.0,1591.9 932.2,1587.5 936.5,1591.8 938.7,1654.2 941.9,1628.0 945.1,1609.0 948.3,1618.5 951.6,1621.9 954.8,1603.4 958.0,1587.5 962.3,1609.0 965.6,1608.4 968.8,1604.7 973.1,1578.8 977.4,1641.3 980.6,1636.6 983.9,1634.8 988.2,1637.0 992.5,1557.3 996.2,1560.6 1000.0,1557.3 1000.8,1548.7 1004.0,1570.9 1007.2,1600.4 1011.5,1535.8 1015.8,1535.8 1020.1,1570.2 1024.4,1583.1 1026.6,1641.3 1029.8,1632.1 1033.0,1619.7 1037.4,1606.5 1041.7,1596.1 1044.9,1605.0 1048.1,1611.1 1051.3,1618.3 1054.6,1630.5 1057.8,1630.6 1061.0,1624.0 1065.3,1621.9 1068.6,1598.7 1071.8,1581.0 1076.1,1637.0 1080.4,1664.9 1084.7,1617.6 1087.9,1609.0 1091.2,1596.1 1094.4,1606.7 1097.6,1624.0 1101.9,1625.6 1106.2,1621.9 1110.5,1533.6 1114.8,1535.8 1119.1,1585.3 1123.5,1565.9 1127.8,1589.6 1132.1,1604.7 1135.3,1595.9 1138.5,1593.9 1141.7,1609.4 1145.0,1617.6 1149.3,1581.0 1152.5,1589.7 1155.7,1604.7 1159.0,1608.4 1162.2,1604.7 1165.4,1604.1 1168.7,1609.0 1173.0,1634.8 1176.2,1613.9 1179.4,1589.6 1183.7,1692.9 1185.9,1593.9 1189.1,1612.9 1192.3,1634.8 1196.6,1632.7 1199.9,1594.6 1203.1,1550.9 1207.4,1617.6 1211.7,1615.4 1214.9,1605.6 1218.2,1602.5 1221.4,1573.5 1224.6,1540.1 1227.3,1543.4 1230.0,1550.9 1233.3,1580.6 1236.5,1604.7 1240.8,1573.2 1245.1,1548.7 1249.4,1553.0 1252.7,1574.7 1255.9,1593.9 1259.1,1604.6 1262.4,1619.7 1266.7,1570.2 1271.0,1615.4 1274.2,1601.3 1277.4,1583.1 1281.7,1578.8 1286.0,1593.9 1289.3,1577.7 1292.5,1568.1 1295.7,1595.3 1298.9,1615.4 1303.3,1611.6 1307.6,1613.3 1310.8,1611.2 1314.0,1604.7 1317.2,1590.3 1320.5,1583.1 1324.8,1595.3 1329.1,1604.7 1333.4,1540.1 1337.7,1537.9 1342.0,1548.7 1346.3,1548.7 1350.6,1570.2 1354.9,1574.5 1359.2,1593.9 1362.4,1591.4 1365.7,1596.1 1370.0,1593.9 1373.2,1571.8 1376.4,1544.4 1380.7,1544.4 1385.0,1626.2 1388.3,1595.7 1391.5,1570.2 1395.8,1578.8 1400.1,1600.4 1403.3,1571.3 1406.6,1537.9 1410.9,1537.9 1415.2,1568.1 1418.4,1569.8 1421.6,1574.5 1424.9,1582.0 1428.1,1583.1 1432.4,1587.5 1435.6,1604.5 1438.9,1624.0 1443.2,1626.2 1446.4,1586.2 1449.6,1540.1" fill="none" stroke="#008000" stroke-width="6.5" stroke-linejoin="miter" stroke-miterlimit="3"/>
<rect x="305.7" y="28.0" width="1145.3" height="1901.0" fill="none" stroke="#1a1a1a" stroke-width="4.3"/>
<line x1="305.7" y1="503.25" x2="1451.0" y2="503.25" stroke="#1a1a1a" stroke-width="4.3"/>
<line x1="305.7" y1="978.5" x2="1451.0" y2="978.5" stroke="#1a1a1a" stroke-width="4.3"/>
<line x1="305.7" y1="1453.75" x2="1451.0" y2="1453.75" stroke="#1a1a1a" stroke-width="4.3"/>
<text x="0" y="0" font-size="50" text-anchor="end" fill="#222" stroke="#fff" stroke-width="0" transform="translate(269,135.4) scale(1.33,1)">2.5</text>
<text x="0" y="0" font-size="50" text-anchor="end" fill="#222" stroke="#fff" stroke-width="0" transform="translate(269,230.4) scale(1.33,1)">2.0</text>
<text x="0" y="0" font-size="50" text-anchor="end" fill="#222" stroke="#fff" stroke-width="0" transform="translate(269,325.4) scale(1.33,1)">1.5</text>
<text x="0" y="0" font-size="50" text-anchor="end" fill="#222" stroke="#fff" stroke-width="0" transform="translate(269,420.5) scale(1.33,1)">1.0</text>
<text x="0" y="0" font-size="50" text-anchor="end" fill="#222" stroke="#fff" stroke-width="0" transform="translate(269,594.8) scale(1.33,1)">3.0</text>
<text x="0" y="0" font-size="50" text-anchor="end" fill="#222" stroke="#fff" stroke-width="0" transform="translate(269,674.0) scale(1.33,1)">2.5</text>
<text x="0" y="0" font-size="50" text-anchor="end" fill="#222" stroke="#fff" stroke-width="0" transform="translate(269,753.2) scale(1.33,1)">2.0</text>
<text x="0" y="0" font-size="50" text-anchor="end" fill="#222" stroke="#fff" stroke-width="0" transform="translate(269,832.4) scale(1.33,1)">1.5</text>
<text x="0" y="0" font-size="50" text-anchor="end" fill="#222" stroke="#fff" stroke-width="0" transform="translate(269,911.6) scale(1.33,1)">1.0</text>
<text x="0" y="0" font-size="50" text-anchor="end" fill="#222" stroke="#fff" stroke-width="0" transform="translate(269,1043.6) scale(1.33,1)">16</text>
<text x="0" y="0" font-size="50" text-anchor="end" fill="#222" stroke="#fff" stroke-width="0" transform="translate(269,1149.2) scale(1.33,1)">12</text>
<text x="0" y="0" font-size="50" text-anchor="end" fill="#222" stroke="#fff" stroke-width="0" transform="translate(269,1254.8) scale(1.33,1)">8</text>
<text x="0" y="0" font-size="50" text-anchor="end" fill="#222" stroke="#fff" stroke-width="0" transform="translate(269,1360.4) scale(1.33,1)">4</text>
<text x="0" y="0" font-size="50" text-anchor="end" fill="#222" stroke="#fff" stroke-width="0" transform="translate(269,1525.5) scale(1.33,1)">6</text>
<text x="0" y="0" font-size="50" text-anchor="end" fill="#222" stroke="#fff" stroke-width="0" transform="translate(269,1644.3) scale(1.33,1)">5</text>
<text x="0" y="0" font-size="50" text-anchor="end" fill="#222" stroke="#fff" stroke-width="0" transform="translate(269,1763.1) scale(1.33,1)">4</text>
<text x="0" y="0" font-size="50" text-anchor="end" fill="#222" stroke="#fff" stroke-width="0" transform="translate(269,1881.9) scale(1.33,1)">3</text>
<text x="0" y="0" font-size="49" text-anchor="middle" fill="#222" stroke="#fff" stroke-width="0" transform="translate(305.7,1985.5) scale(1.38,1)">50</text>
<text x="0" y="0" font-size="49" text-anchor="middle" fill="#222" stroke="#fff" stroke-width="0" transform="translate(549.3,1985.5) scale(1.38,1)">60</text>
<text x="0" y="0" font-size="49" text-anchor="middle" fill="#222" stroke="#fff" stroke-width="0" transform="translate(792.9,1985.5) scale(1.38,1)">70</text>
<text x="0" y="0" font-size="49" text-anchor="middle" fill="#222" stroke="#fff" stroke-width="0" transform="translate(1036.5,1985.5) scale(1.38,1)">80</text>
<text x="0" y="0" font-size="49" text-anchor="middle" fill="#222" stroke="#fff" stroke-width="0" transform="translate(1280.1,1985.5) scale(1.38,1)">90</text>
<text x="0" y="0" font-size="51" text-anchor="middle" textLength="384" lengthAdjust="spacingAndGlyphs" fill="#222" stroke="#fff" stroke-width="0" transform="translate(80,277) rotate(-90) scale(1,1.31)">Ligand RMSD [Å]</text>
<text x="0" y="0" font-size="51" text-anchor="middle" textLength="227" lengthAdjust="spacingAndGlyphs" fill="#222" stroke="#fff" stroke-width="0" transform="translate(80,741.5) rotate(-90) scale(1,1.31)">IRMSD [Å]</text>
<text x="0" y="0" font-size="51" text-anchor="middle" textLength="120" lengthAdjust="spacingAndGlyphs" fill="#222" stroke="#fff" stroke-width="0" transform="translate(80,1216) rotate(-90) scale(1,1.31)">NHBs</text>
<text x="0" y="0" font-size="51" text-anchor="middle" textLength="245" lengthAdjust="spacingAndGlyphs" fill="#222" stroke="#fff" stroke-width="0" transform="translate(80,1692) rotate(-90) scale(1,1.31)">Distance [Å]</text>
<text x="0" y="0" font-size="50.5" text-anchor="middle" textLength="264" lengthAdjust="spacingAndGlyphs" fill="#222" stroke="#fff" stroke-width="0" transform="translate(877,2050)">Time [ns]</text>
<line x1="100.3" y1="2071.8" x2="1451.9" y2="2071.8" stroke="#008000" stroke-width="6"/>
<text x="543" y="2148.5" font-size="50" text-anchor="end" textLength="232" lengthAdjust="spacingAndGlyphs" fill="#222" stroke="#fff" stroke-width="0">fengycin</text>
<text x="543" y="2191.5" font-size="50" text-anchor="end" textLength="157" lengthAdjust="spacingAndGlyphs" fill="#222" stroke="#fff" stroke-width="0">iturin</text>
<text x="854" y="2149" font-size="50" text-anchor="start" textLength="247" lengthAdjust="spacingAndGlyphs" fill="#222" stroke="#fff" stroke-width="0">surfactin</text>
<line x1="577.6" y1="2137" x2="739.6" y2="2137" stroke="#ff0000" stroke-width="6"/>
<line x1="577.6" y1="2180" x2="739.6" y2="2180" stroke="#0000ff" stroke-width="6"/>
<line x1="1135.5" y1="2137" x2="1299.2" y2="2137" stroke="#008000" stroke-width="6"/>
</svg>
<svg class="ov" width="1479" height="2211" viewBox="0 0 1479 2211" font-family="Liberation Serif">
<defs><filter id="ds" x="-20%" y="-20%" width="150%" height="150%"><feDropShadow dx="2" dy="2.5" stdDeviation="1.6" flood-color="#000" flood-opacity="0.35"/></filter></defs>
<g filter="url(#ds)">
<text x="0" y="0" font-size="67" text-anchor="middle" fill="#000" transform="translate(382,107) scale(1.09,1)">a</text>
<text x="0" y="0" font-size="67" text-anchor="middle" fill="#000" transform="translate(381,569) scale(1.09,1)">b</text>
<text x="0" y="0" font-size="67" text-anchor="middle" fill="#000" transform="translate(380.5,1049) scale(1.09,1)">c</text>
<text x="0" y="0" font-size="67" text-anchor="middle" fill="#000" transform="translate(826.5,1857) scale(1.09,1)">d</text>
</g>
</svg></body></html>
